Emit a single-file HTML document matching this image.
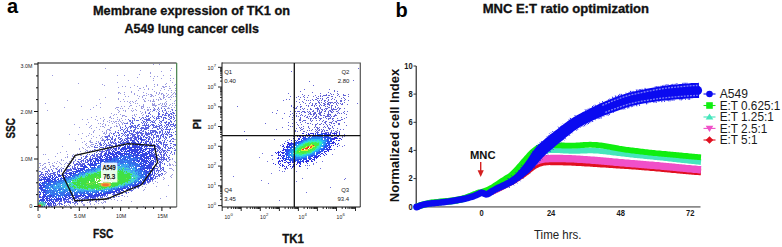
<!DOCTYPE html>
<html><head><meta charset="utf-8"><style>html,body{margin:0;padding:0;background:#fff;width:782px;height:247px;overflow:hidden}</style></head>
<body><svg width="782" height="247" viewBox="0 0 782 247" style="font-family:'Liberation Sans',sans-serif;display:block"><rect width="782" height="247" fill="#fff"/><text x="7" y="13.2" font-size="20" font-weight="bold" text-anchor="start" fill="#000" >a</text><text x="395.5" y="17" font-size="20" font-weight="bold" text-anchor="start" fill="#000" >b</text><text x="93" y="14.7" font-size="12.8" font-weight="bold" text-anchor="start" fill="#111" textLength="197" lengthAdjust="spacingAndGlyphs" stroke="#111" stroke-width="0.32">Membrane expression of TK1 on</text><text x="124.4" y="32.5" font-size="12.8" font-weight="bold" text-anchor="start" fill="#111" textLength="134.5" lengthAdjust="spacingAndGlyphs" stroke="#111" stroke-width="0.32">A549 lung cancer cells</text><text x="482.7" y="13.1" font-size="11.9" font-weight="bold" text-anchor="start" fill="#111" textLength="166.3" lengthAdjust="spacingAndGlyphs" stroke="#111" stroke-width="0.32">MNC E:T ratio optimization</text><text x="93" y="237.5" font-size="12.2" font-weight="bold" text-anchor="start" fill="#111" textLength="20.5" lengthAdjust="spacingAndGlyphs" stroke="#111" stroke-width="0.32">FSC</text><text x="282.3" y="242.8" font-size="12.3" font-weight="bold" text-anchor="start" fill="#111" textLength="21.6" lengthAdjust="spacingAndGlyphs" stroke="#111" stroke-width="0.32">TK1</text><text x="15.2" y="138.5" font-size="12.5" font-weight="bold" text-anchor="start" fill="#111" textLength="20.3" lengthAdjust="spacingAndGlyphs" transform="rotate(-90 15.2 138.5)" stroke="#111" stroke-width="0.32">SSC</text><text x="200.7" y="129.2" font-size="11" font-weight="bold" text-anchor="start" fill="#111" textLength="10.2" lengthAdjust="spacingAndGlyphs" transform="rotate(-90 200.7 129.2)" stroke="#111" stroke-width="0.32">PI</text><path fill="#9a9ae0" d="M153 64h1v1h-1zM159 64h1v1h-1zM105 68h1v1h-1zM171 68h1v1h-1zM140 70h1v1h-1zM170 70h1v1h-1zM161 71h1v1h-1zM150 72h1v1h-1zM150 73h1v1h-1zM139 74h1v1h-1zM52 75h1v1h-1zM117 75h1v1h-1zM124 75h1v1h-1zM163 75h1v1h-1zM170 75h1v1h-1zM150 76h1v1h-1zM154 76h1v1h-1zM157 76h1v1h-1zM137 77h1v1h-1zM153 78h1v1h-1zM161 78h1v1h-1zM170 78h1v1h-1zM173 78h1v1h-1zM128 80h1v1h-1zM153 80h1v1h-1zM170 80h1v1h-1zM117 82h1v1h-1zM172 82h1v1h-1zM78 83h1v1h-1zM166 83h1v1h-1zM102 84h1v1h-1zM154 84h1v1h-1zM157 84h1v1h-1zM165 84h1v1h-1zM175 84h1v1h-1zM104 85h1v1h-1zM134 85h1v1h-1zM146 85h1v1h-1zM157 85h1v1h-1zM174 85h1v1h-1zM122 86h1v1h-1zM125 86h1v1h-1zM137 86h1v1h-1zM146 86h1v1h-1zM154 86h1v1h-1zM162 86h2v1h-2zM165 86h2v1h-2zM169 86h1v1h-1zM118 87h1v1h-1zM130 87h1v1h-1zM143 87h1v1h-1zM163 87h2v1h-2zM139 88h2v1h-2zM148 88h1v1h-1zM161 88h1v1h-1zM169 88h2v1h-2zM175 88h1v1h-1zM144 89h1v1h-1zM148 89h1v1h-1zM152 89h1v1h-1zM164 89h1v1h-1zM138 90h1v1h-1zM160 90h1v1h-1zM168 90h1v1h-1zM171 90h1v1h-1zM175 90h1v1h-1zM131 91h1v1h-1zM154 91h1v1h-1zM118 92h2v1h-2zM124 92h1v1h-1zM131 92h1v1h-1zM143 92h1v1h-1zM156 92h1v1h-1zM159 92h1v1h-1zM171 92h1v1h-1zM174 92h1v1h-1zM118 93h1v1h-1zM120 93h1v1h-1zM134 93h1v1h-1zM146 93h1v1h-1zM156 93h1v1h-1zM159 93h1v1h-1zM161 93h2v1h-2zM166 93h1v1h-1zM173 93h1v1h-1zM175 93h1v1h-1zM124 94h1v1h-1zM134 94h1v1h-1zM148 94h1v1h-1zM150 94h2v1h-2zM158 94h1v1h-1zM161 94h1v1h-1zM163 94h1v1h-1zM168 94h1v1h-1zM172 94h1v1h-1zM175 94h1v1h-1zM137 95h1v1h-1zM143 95h2v1h-2zM146 95h1v1h-1zM151 95h2v1h-2zM155 95h1v1h-1zM163 95h2v1h-2zM167 95h1v1h-1zM171 95h1v1h-1zM125 96h1v1h-1zM128 96h1v1h-1zM139 96h1v1h-1zM142 96h1v1h-1zM150 96h2v1h-2zM153 96h1v1h-1zM163 96h1v1h-1zM166 96h1v1h-1zM170 96h1v1h-1zM173 96h1v1h-1zM175 96h1v1h-1zM105 97h1v1h-1zM142 97h1v1h-1zM159 97h1v1h-1zM163 97h2v1h-2zM168 97h2v1h-2zM171 97h1v1h-1zM118 98h1v1h-1zM138 98h1v1h-1zM145 98h1v1h-1zM160 98h1v1h-1zM163 98h1v1h-1zM99 99h1v1h-1zM118 99h1v1h-1zM123 99h1v1h-1zM143 99h1v1h-1zM153 99h1v1h-1zM156 99h1v1h-1zM158 99h1v1h-1zM160 99h2v1h-2zM165 99h1v1h-1zM170 99h1v1h-1zM67 100h1v1h-1zM136 100h1v1h-1zM144 100h1v1h-1zM148 100h1v1h-1zM150 100h1v1h-1zM153 100h1v1h-1zM158 100h1v1h-1zM175 100h1v1h-1zM120 101h1v1h-1zM124 101h1v1h-1zM127 101h1v1h-1zM130 101h1v1h-1zM132 101h1v1h-1zM135 101h1v1h-1zM144 101h2v1h-2zM150 101h1v1h-1zM152 101h3v1h-3zM166 101h1v1h-1zM174 101h1v1h-1zM129 102h1v1h-1zM133 102h1v1h-1zM165 102h1v1h-1zM45 103h1v1h-1zM100 103h1v1h-1zM130 103h1v1h-1zM135 103h1v1h-1zM137 103h1v1h-1zM152 103h1v1h-1zM154 103h1v1h-1zM160 103h1v1h-1zM162 103h1v1h-1zM164 103h1v1h-1zM166 103h1v1h-1zM172 103h1v1h-1zM174 103h1v1h-1zM143 104h1v1h-1zM152 104h3v1h-3zM158 104h2v1h-2zM162 104h1v1h-1zM164 104h1v1h-1zM166 104h1v1h-1zM170 104h1v1h-1zM96 105h1v1h-1zM130 105h2v1h-2zM139 105h1v1h-1zM143 105h1v1h-1zM152 105h5v1h-5zM161 105h1v1h-1zM165 105h1v1h-1zM169 105h1v1h-1zM172 105h1v1h-1zM175 105h1v1h-1zM81 106h1v1h-1zM121 106h1v1h-1zM124 106h1v1h-1zM129 106h1v1h-1zM136 106h1v1h-1zM141 106h3v1h-3zM155 106h1v1h-1zM162 106h5v1h-5zM64 107h1v1h-1zM93 107h1v1h-1zM100 107h1v1h-1zM116 107h3v1h-3zM141 107h1v1h-1zM143 107h1v1h-1zM147 107h1v1h-1zM149 107h1v1h-1zM153 107h1v1h-1zM158 107h1v1h-1zM161 107h1v1h-1zM168 107h1v1h-1zM171 107h1v1h-1zM174 107h1v1h-1zM115 108h1v1h-1zM120 108h1v1h-1zM122 108h1v1h-1zM128 108h1v1h-1zM132 108h1v1h-1zM141 108h2v1h-2zM167 108h3v1h-3zM90 109h1v1h-1zM117 109h1v1h-1zM135 109h1v1h-1zM144 109h1v1h-1zM147 109h2v1h-2zM153 109h3v1h-3zM159 109h1v1h-1zM171 109h1v1h-1zM47 110h1v1h-1zM118 110h1v1h-1zM123 110h1v1h-1zM125 110h1v1h-1zM131 110h1v1h-1zM133 110h1v1h-1zM136 110h1v1h-1zM147 110h2v1h-2zM158 110h1v1h-1zM164 110h1v1h-1zM119 111h1v1h-1zM125 111h1v1h-1zM132 111h1v1h-1zM140 111h1v1h-1zM145 111h1v1h-1zM150 111h1v1h-1zM152 111h1v1h-1zM156 111h1v1h-1zM166 111h1v1h-1zM168 111h1v1h-1zM118 112h1v1h-1zM142 112h1v1h-1zM111 113h1v1h-1zM141 113h1v1h-1zM145 113h1v1h-1zM114 114h1v1h-1zM116 114h1v1h-1zM120 114h1v1h-1zM134 114h1v1h-1zM136 114h1v1h-1zM143 114h1v1h-1zM172 114h1v1h-1zM113 115h1v1h-1zM122 115h3v1h-3zM132 115h1v1h-1zM134 115h1v1h-1zM142 115h1v1h-1zM152 115h1v1h-1zM96 116h1v1h-1zM110 116h1v1h-1zM122 116h1v1h-1zM125 116h2v1h-2zM135 116h1v1h-1zM154 116h1v1h-1zM173 116h1v1h-1zM91 117h1v1h-1zM103 117h1v1h-1zM109 117h2v1h-2zM117 117h1v1h-1zM143 117h1v1h-1zM174 117h1v1h-1zM100 118h1v1h-1zM111 118h1v1h-1zM113 118h1v1h-1zM121 118h1v1h-1zM132 118h1v1h-1zM134 118h1v1h-1zM146 118h1v1h-1zM82 119h1v1h-1zM87 119h1v1h-1zM95 119h1v1h-1zM104 119h1v1h-1zM117 119h1v1h-1zM119 119h1v1h-1zM125 119h1v1h-1zM97 120h1v1h-1zM103 120h1v1h-1zM109 120h1v1h-1zM119 120h1v1h-1zM122 120h1v1h-1zM103 121h1v1h-1zM107 121h1v1h-1zM111 121h1v1h-1zM113 121h1v1h-1zM115 121h2v1h-2zM118 121h1v1h-1zM120 121h1v1h-1zM129 121h1v1h-1zM88 122h1v1h-1zM109 122h1v1h-1zM114 122h1v1h-1zM121 122h1v1h-1zM123 122h1v1h-1zM127 122h1v1h-1zM98 123h1v1h-1zM100 123h1v1h-1zM103 123h1v1h-1zM112 123h1v1h-1zM116 123h1v1h-1zM118 123h1v1h-1zM122 123h1v1h-1zM125 123h1v1h-1zM74 124h1v1h-1zM86 124h1v1h-1zM102 124h1v1h-1zM105 124h1v1h-1zM119 124h1v1h-1zM122 124h1v1h-1zM91 125h1v1h-1zM105 125h1v1h-1zM108 125h1v1h-1zM116 125h1v1h-1zM119 125h1v1h-1zM90 126h1v1h-1zM100 126h1v1h-1zM102 126h2v1h-2zM114 126h1v1h-1zM116 126h2v1h-2zM120 126h1v1h-1zM79 127h1v1h-1zM89 127h1v1h-1zM96 127h1v1h-1zM104 127h1v1h-1zM110 127h2v1h-2zM91 128h1v1h-1zM110 128h1v1h-1zM99 129h1v1h-1zM107 129h3v1h-3zM94 130h1v1h-1zM106 130h1v1h-1zM109 130h2v1h-2zM93 131h1v1h-1zM102 131h1v1h-1zM106 131h1v1h-1zM93 132h1v1h-1zM104 132h1v1h-1zM106 132h1v1h-1zM110 132h1v1h-1zM82 133h1v1h-1zM89 133h1v1h-1zM103 133h2v1h-2zM106 133h1v1h-1zM109 133h1v1h-1zM69 134h1v1h-1zM78 134h1v1h-1zM91 134h1v1h-1zM105 134h1v1h-1zM109 134h1v1h-1zM88 135h1v1h-1zM99 135h1v1h-1zM86 136h1v1h-1zM93 136h1v1h-1zM102 136h1v1h-1zM104 136h1v1h-1zM108 136h1v1h-1zM96 137h1v1h-1zM101 137h1v1h-1zM81 138h1v1h-1zM91 138h1v1h-1zM100 138h1v1h-1zM102 138h1v1h-1zM102 139h2v1h-2zM173 139h3v1h-3zM75 140h1v1h-1zM90 140h1v1h-1zM101 140h1v1h-1zM103 140h2v1h-2zM84 141h1v1h-1zM89 141h2v1h-2zM96 141h1v1h-1zM98 141h1v1h-1zM82 142h1v1h-1zM90 142h3v1h-3zM98 142h1v1h-1zM86 143h1v1h-1zM95 143h1v1h-1zM85 144h1v1h-1zM91 144h3v1h-3zM99 144h1v1h-1zM86 145h1v1h-1zM90 145h1v1h-1zM174 145h1v1h-1zM62 146h1v1h-1zM88 146h1v1h-1zM91 146h2v1h-2zM82 147h1v1h-1zM87 147h1v1h-1zM89 147h1v1h-1zM79 148h1v1h-1zM83 148h1v1h-1zM79 149h1v1h-1zM85 149h1v1h-1zM95 149h1v1h-1zM175 149h1v1h-1zM86 150h2v1h-2zM90 150h1v1h-1zM66 151h1v1h-1zM80 151h1v1h-1zM85 151h1v1h-1zM87 151h1v1h-1zM60 152h1v1h-1zM87 152h1v1h-1zM57 153h1v1h-1zM77 153h1v1h-1zM81 153h1v1h-1zM43 154h1v1h-1zM45 154h1v1h-1zM67 154h1v1h-1zM73 154h1v1h-1zM78 154h1v1h-1zM80 154h1v1h-1zM174 154h1v1h-1zM72 155h1v1h-1zM74 155h1v1h-1zM76 155h1v1h-1zM80 155h2v1h-2zM55 156h1v1h-1zM67 156h1v1h-1zM72 156h2v1h-2zM65 157h1v1h-1zM67 157h1v1h-1zM75 157h1v1h-1zM71 158h1v1h-1zM172 158h1v1h-1zM48 159h1v1h-1zM61 159h1v1h-1zM73 159h1v1h-1zM75 159h1v1h-1zM170 159h1v1h-1zM172 159h1v1h-1zM61 160h1v1h-1zM63 160h1v1h-1zM169 160h1v1h-1zM57 161h1v1h-1zM69 161h1v1h-1zM73 161h2v1h-2zM168 161h1v1h-1zM174 161h1v1h-1zM48 162h2v1h-2zM54 162h1v1h-1zM59 162h1v1h-1zM66 162h1v1h-1zM71 162h1v1h-1zM175 162h1v1h-1zM39 163h2v1h-2zM44 163h2v1h-2zM52 163h1v1h-1zM56 163h1v1h-1zM60 163h1v1h-1zM65 163h1v1h-1zM67 163h2v1h-2zM70 163h1v1h-1zM169 163h1v1h-1zM43 164h1v1h-1zM49 164h1v1h-1zM61 164h1v1h-1zM64 164h1v1h-1zM169 164h2v1h-2zM172 164h1v1h-1zM40 165h1v1h-1zM42 165h1v1h-1zM52 165h2v1h-2zM67 165h1v1h-1zM169 165h2v1h-2zM173 165h1v1h-1zM175 165h1v1h-1zM45 166h1v1h-1zM50 166h1v1h-1zM53 166h2v1h-2zM58 166h1v1h-1zM64 166h1v1h-1zM39 167h1v1h-1zM44 167h2v1h-2zM50 167h1v1h-1zM57 167h1v1h-1zM61 167h1v1h-1zM42 168h2v1h-2zM46 168h1v1h-1zM53 168h1v1h-1zM55 168h1v1h-1zM60 168h1v1h-1zM62 168h1v1h-1zM169 168h3v1h-3zM42 169h1v1h-1zM44 169h1v1h-1zM56 169h2v1h-2zM172 169h1v1h-1zM49 170h1v1h-1zM173 170h1v1h-1zM165 171h1v1h-1zM166 172h1v1h-1zM165 173h1v1h-1zM164 174h1v1h-1zM172 174h1v1h-1zM171 175h1v1h-1zM170 176h1v1h-1zM163 177h1v1h-1zM171 177h1v1h-1zM157 178h1v1h-1zM164 178h1v1h-1zM163 179h1v1h-1zM152 181h1v1h-1zM155 181h1v1h-1zM149 182h1v1h-1zM157 182h1v1h-1zM148 183h1v1h-1zM153 183h1v1h-1zM146 184h1v1h-1zM168 185h1v1h-1zM142 186h1v1h-1zM156 186h1v1h-1zM145 187h1v1h-1zM138 188h1v1h-1zM144 189h1v1h-1zM143 190h1v1h-1zM131 191h1v1h-1zM121 195h1v1h-1zM119 196h1v1h-1zM124 196h1v1h-1zM127 196h1v1h-1zM166 196h1v1h-1zM160 198h1v1h-1zM108 199h1v1h-1zM111 199h1v1h-1zM114 199h1v1h-1zM98 200h2v1h-2zM103 200h1v1h-1zM117 200h1v1h-1zM121 200h1v1h-1zM89 201h1v1h-1zM96 201h1v1h-1zM98 201h1v1h-1zM104 201h2v1h-2zM131 201h1v1h-1zM81 202h1v1h-1zM87 202h1v1h-1zM89 202h1v1h-1zM96 202h1v1h-1zM101 202h1v1h-1zM103 202h1v1h-1zM105 202h1v1h-1zM75 203h1v1h-1zM82 203h1v1h-1zM90 203h1v1h-1zM98 203h1v1h-1zM102 203h1v1h-1zM68 204h1v1h-1zM74 204h1v1h-1zM77 204h1v1h-1zM83 204h2v1h-2zM90 204h1v1h-1zM94 204h1v1h-1zM56 205h1v1h-1zM59 205h1v1h-1zM66 205h1v1h-1zM69 205h1v1h-1zM75 205h1v1h-1zM83 205h2v1h-2zM60 206h2v1h-2zM65 206h1v1h-1zM70 206h1v1h-1zM73 206h1v1h-1zM91 206h1v1h-1zM103 206h1v1h-1zM143 206h1v1h-1z"/><path fill="#5e64e0" d="M154 108h1v1h-1zM158 108h1v1h-1zM161 108h1v1h-1zM164 108h1v1h-1zM150 109h1v1h-1zM157 109h1v1h-1zM165 109h1v1h-1zM172 109h1v1h-1zM153 110h2v1h-2zM162 110h1v1h-1zM165 110h1v1h-1zM172 110h1v1h-1zM175 110h1v1h-1zM159 111h1v1h-1zM162 111h1v1h-1zM170 111h1v1h-1zM145 112h1v1h-1zM149 112h1v1h-1zM158 112h1v1h-1zM163 112h1v1h-1zM166 112h1v1h-1zM172 112h2v1h-2zM148 113h2v1h-2zM158 113h2v1h-2zM165 113h3v1h-3zM170 113h2v1h-2zM173 113h2v1h-2zM150 114h1v1h-1zM158 114h2v1h-2zM162 114h2v1h-2zM165 114h1v1h-1zM168 114h2v1h-2zM171 114h1v1h-1zM146 115h1v1h-1zM148 115h1v1h-1zM158 115h1v1h-1zM162 115h1v1h-1zM164 115h3v1h-3zM168 115h2v1h-2zM173 115h1v1h-1zM175 115h1v1h-1zM146 116h3v1h-3zM152 116h1v1h-1zM157 116h5v1h-5zM168 116h1v1h-1zM170 116h2v1h-2zM132 117h1v1h-1zM139 117h1v1h-1zM142 117h1v1h-1zM145 117h1v1h-1zM150 117h1v1h-1zM153 117h1v1h-1zM156 117h1v1h-1zM158 117h1v1h-1zM161 117h1v1h-1zM163 117h3v1h-3zM169 117h1v1h-1zM171 117h1v1h-1zM173 117h1v1h-1zM133 118h1v1h-1zM141 118h1v1h-1zM143 118h1v1h-1zM148 118h2v1h-2zM154 118h1v1h-1zM156 118h4v1h-4zM163 118h1v1h-1zM165 118h2v1h-2zM170 118h2v1h-2zM174 118h1v1h-1zM128 119h1v1h-1zM134 119h1v1h-1zM140 119h1v1h-1zM144 119h6v1h-6zM156 119h1v1h-1zM163 119h1v1h-1zM168 119h2v1h-2zM173 119h1v1h-1zM129 120h2v1h-2zM132 120h1v1h-1zM134 120h1v1h-1zM136 120h3v1h-3zM142 120h1v1h-1zM146 120h5v1h-5zM153 120h1v1h-1zM155 120h1v1h-1zM159 120h1v1h-1zM162 120h2v1h-2zM170 120h1v1h-1zM175 120h1v1h-1zM130 121h1v1h-1zM132 121h1v1h-1zM143 121h2v1h-2zM146 121h1v1h-1zM151 121h2v1h-2zM154 121h1v1h-1zM160 121h2v1h-2zM166 121h1v1h-1zM170 121h2v1h-2zM174 121h1v1h-1zM131 122h2v1h-2zM141 122h1v1h-1zM143 122h1v1h-1zM145 122h1v1h-1zM147 122h1v1h-1zM150 122h1v1h-1zM152 122h3v1h-3zM159 122h1v1h-1zM161 122h1v1h-1zM164 122h3v1h-3zM168 122h2v1h-2zM171 122h1v1h-1zM124 123h1v1h-1zM126 123h2v1h-2zM130 123h1v1h-1zM132 123h2v1h-2zM142 123h1v1h-1zM144 123h1v1h-1zM146 123h1v1h-1zM155 123h1v1h-1zM160 123h1v1h-1zM165 123h1v1h-1zM168 123h2v1h-2zM173 123h1v1h-1zM130 124h1v1h-1zM138 124h2v1h-2zM144 124h1v1h-1zM146 124h1v1h-1zM148 124h1v1h-1zM151 124h3v1h-3zM158 124h1v1h-1zM161 124h1v1h-1zM166 124h3v1h-3zM170 124h4v1h-4zM175 124h1v1h-1zM125 125h1v1h-1zM131 125h2v1h-2zM134 125h2v1h-2zM137 125h2v1h-2zM142 125h7v1h-7zM150 125h1v1h-1zM152 125h3v1h-3zM156 125h1v1h-1zM159 125h3v1h-3zM164 125h1v1h-1zM166 125h1v1h-1zM168 125h1v1h-1zM170 125h1v1h-1zM173 125h3v1h-3zM125 126h1v1h-1zM129 126h5v1h-5zM135 126h1v1h-1zM137 126h1v1h-1zM139 126h1v1h-1zM145 126h1v1h-1zM148 126h2v1h-2zM153 126h1v1h-1zM155 126h5v1h-5zM162 126h1v1h-1zM165 126h1v1h-1zM167 126h1v1h-1zM169 126h1v1h-1zM171 126h2v1h-2zM174 126h1v1h-1zM120 127h1v1h-1zM122 127h1v1h-1zM126 127h1v1h-1zM128 127h1v1h-1zM130 127h2v1h-2zM133 127h4v1h-4zM141 127h3v1h-3zM145 127h4v1h-4zM153 127h4v1h-4zM159 127h1v1h-1zM161 127h1v1h-1zM164 127h1v1h-1zM166 127h2v1h-2zM175 127h1v1h-1zM120 128h1v1h-1zM125 128h1v1h-1zM127 128h1v1h-1zM130 128h1v1h-1zM135 128h1v1h-1zM137 128h2v1h-2zM140 128h9v1h-9zM152 128h1v1h-1zM157 128h1v1h-1zM159 128h2v1h-2zM162 128h1v1h-1zM166 128h1v1h-1zM170 128h1v1h-1zM174 128h1v1h-1zM121 129h2v1h-2zM124 129h1v1h-1zM127 129h1v1h-1zM134 129h2v1h-2zM141 129h1v1h-1zM144 129h3v1h-3zM157 129h2v1h-2zM161 129h1v1h-1zM163 129h1v1h-1zM165 129h6v1h-6zM172 129h1v1h-1zM118 130h1v1h-1zM120 130h1v1h-1zM123 130h1v1h-1zM126 130h2v1h-2zM130 130h2v1h-2zM133 130h2v1h-2zM140 130h2v1h-2zM143 130h1v1h-1zM148 130h1v1h-1zM150 130h6v1h-6zM161 130h2v1h-2zM169 130h1v1h-1zM115 131h1v1h-1zM123 131h1v1h-1zM125 131h1v1h-1zM127 131h3v1h-3zM131 131h1v1h-1zM133 131h2v1h-2zM137 131h1v1h-1zM139 131h1v1h-1zM142 131h2v1h-2zM145 131h1v1h-1zM150 131h1v1h-1zM152 131h5v1h-5zM159 131h2v1h-2zM162 131h1v1h-1zM165 131h1v1h-1zM167 131h1v1h-1zM169 131h1v1h-1zM175 131h1v1h-1zM115 132h1v1h-1zM117 132h2v1h-2zM124 132h3v1h-3zM129 132h1v1h-1zM133 132h1v1h-1zM135 132h7v1h-7zM145 132h2v1h-2zM148 132h1v1h-1zM150 132h4v1h-4zM155 132h3v1h-3zM159 132h2v1h-2zM162 132h1v1h-1zM165 132h1v1h-1zM167 132h3v1h-3zM171 132h1v1h-1zM173 132h1v1h-1zM111 133h1v1h-1zM113 133h2v1h-2zM118 133h1v1h-1zM121 133h2v1h-2zM124 133h1v1h-1zM129 133h4v1h-4zM136 133h3v1h-3zM140 133h4v1h-4zM145 133h7v1h-7zM155 133h1v1h-1zM157 133h1v1h-1zM159 133h1v1h-1zM162 133h1v1h-1zM164 133h1v1h-1zM166 133h1v1h-1zM168 133h1v1h-1zM113 134h1v1h-1zM119 134h1v1h-1zM123 134h1v1h-1zM125 134h1v1h-1zM127 134h2v1h-2zM131 134h5v1h-5zM137 134h1v1h-1zM141 134h2v1h-2zM145 134h5v1h-5zM151 134h2v1h-2zM154 134h2v1h-2zM161 134h3v1h-3zM165 134h3v1h-3zM169 134h3v1h-3zM175 134h1v1h-1zM108 135h2v1h-2zM114 135h1v1h-1zM116 135h1v1h-1zM118 135h2v1h-2zM122 135h1v1h-1zM124 135h1v1h-1zM126 135h3v1h-3zM130 135h1v1h-1zM132 135h3v1h-3zM137 135h3v1h-3zM141 135h2v1h-2zM144 135h1v1h-1zM146 135h2v1h-2zM151 135h1v1h-1zM153 135h1v1h-1zM156 135h3v1h-3zM160 135h2v1h-2zM163 135h1v1h-1zM167 135h1v1h-1zM171 135h2v1h-2zM105 136h3v1h-3zM109 136h1v1h-1zM112 136h1v1h-1zM116 136h1v1h-1zM121 136h1v1h-1zM125 136h1v1h-1zM127 136h1v1h-1zM132 136h4v1h-4zM137 136h1v1h-1zM140 136h1v1h-1zM144 136h1v1h-1zM148 136h2v1h-2zM153 136h1v1h-1zM156 136h3v1h-3zM160 136h1v1h-1zM162 136h2v1h-2zM165 136h1v1h-1zM169 136h3v1h-3zM105 137h3v1h-3zM110 137h1v1h-1zM112 137h1v1h-1zM118 137h2v1h-2zM127 137h2v1h-2zM130 137h3v1h-3zM134 137h1v1h-1zM136 137h3v1h-3zM140 137h2v1h-2zM143 137h1v1h-1zM146 137h2v1h-2zM149 137h2v1h-2zM153 137h2v1h-2zM156 137h1v1h-1zM158 137h1v1h-1zM160 137h1v1h-1zM163 137h1v1h-1zM165 137h2v1h-2zM169 137h1v1h-1zM107 138h1v1h-1zM111 138h2v1h-2zM115 138h1v1h-1zM118 138h1v1h-1zM120 138h2v1h-2zM125 138h7v1h-7zM133 138h4v1h-4zM139 138h1v1h-1zM148 138h2v1h-2zM151 138h1v1h-1zM153 138h1v1h-1zM159 138h2v1h-2zM164 138h1v1h-1zM166 138h1v1h-1zM172 138h2v1h-2zM106 139h4v1h-4zM111 139h2v1h-2zM114 139h2v1h-2zM119 139h2v1h-2zM122 139h1v1h-1zM124 139h1v1h-1zM126 139h2v1h-2zM130 139h2v1h-2zM134 139h1v1h-1zM136 139h1v1h-1zM143 139h3v1h-3zM149 139h1v1h-1zM151 139h2v1h-2zM156 139h1v1h-1zM158 139h2v1h-2zM165 139h1v1h-1zM171 139h1v1h-1zM102 140h1v1h-1zM105 140h1v1h-1zM107 140h1v1h-1zM110 140h1v1h-1zM114 140h2v1h-2zM121 140h2v1h-2zM124 140h2v1h-2zM127 140h2v1h-2zM131 140h1v1h-1zM134 140h1v1h-1zM136 140h2v1h-2zM142 140h3v1h-3zM146 140h1v1h-1zM148 140h1v1h-1zM152 140h1v1h-1zM156 140h1v1h-1zM158 140h1v1h-1zM162 140h1v1h-1zM164 140h1v1h-1zM167 140h1v1h-1zM170 140h1v1h-1zM104 141h1v1h-1zM110 141h1v1h-1zM112 141h1v1h-1zM114 141h1v1h-1zM118 141h1v1h-1zM120 141h2v1h-2zM123 141h1v1h-1zM127 141h2v1h-2zM133 141h2v1h-2zM145 141h2v1h-2zM150 141h1v1h-1zM152 141h1v1h-1zM154 141h1v1h-1zM156 141h5v1h-5zM164 141h1v1h-1zM169 141h2v1h-2zM172 141h2v1h-2zM100 142h1v1h-1zM104 142h1v1h-1zM108 142h1v1h-1zM110 142h4v1h-4zM115 142h1v1h-1zM118 142h3v1h-3zM122 142h5v1h-5zM132 142h1v1h-1zM140 142h1v1h-1zM146 142h1v1h-1zM149 142h2v1h-2zM152 142h1v1h-1zM154 142h1v1h-1zM159 142h3v1h-3zM163 142h2v1h-2zM166 142h1v1h-1zM96 143h1v1h-1zM99 143h2v1h-2zM103 143h1v1h-1zM105 143h1v1h-1zM108 143h1v1h-1zM111 143h1v1h-1zM113 143h4v1h-4zM121 143h2v1h-2zM137 143h2v1h-2zM144 143h2v1h-2zM149 143h3v1h-3zM156 143h1v1h-1zM158 143h1v1h-1zM160 143h2v1h-2zM163 143h1v1h-1zM170 143h2v1h-2zM100 144h2v1h-2zM104 144h1v1h-1zM106 144h1v1h-1zM109 144h2v1h-2zM115 144h2v1h-2zM118 144h2v1h-2zM121 144h1v1h-1zM124 144h2v1h-2zM129 144h1v1h-1zM132 144h1v1h-1zM144 144h1v1h-1zM147 144h1v1h-1zM150 144h1v1h-1zM153 144h2v1h-2zM156 144h2v1h-2zM161 144h1v1h-1zM163 144h5v1h-5zM173 144h3v1h-3zM95 145h1v1h-1zM97 145h1v1h-1zM100 145h2v1h-2zM103 145h1v1h-1zM106 145h7v1h-7zM118 145h2v1h-2zM121 145h2v1h-2zM141 145h1v1h-1zM145 145h2v1h-2zM148 145h1v1h-1zM153 145h3v1h-3zM157 145h1v1h-1zM163 145h1v1h-1zM165 145h2v1h-2zM170 145h1v1h-1zM175 145h1v1h-1zM94 146h1v1h-1zM99 146h1v1h-1zM105 146h2v1h-2zM109 146h1v1h-1zM111 146h3v1h-3zM116 146h2v1h-2zM119 146h1v1h-1zM137 146h1v1h-1zM151 146h1v1h-1zM156 146h4v1h-4zM163 146h1v1h-1zM165 146h1v1h-1zM167 146h1v1h-1zM173 146h1v1h-1zM94 147h4v1h-4zM100 147h4v1h-4zM105 147h1v1h-1zM107 147h1v1h-1zM113 147h1v1h-1zM116 147h1v1h-1zM119 147h1v1h-1zM146 147h1v1h-1zM154 147h1v1h-1zM157 147h4v1h-4zM164 147h2v1h-2zM168 147h1v1h-1zM170 147h2v1h-2zM99 148h1v1h-1zM103 148h1v1h-1zM105 148h3v1h-3zM110 148h2v1h-2zM114 148h1v1h-1zM146 148h1v1h-1zM151 148h2v1h-2zM155 148h2v1h-2zM158 148h3v1h-3zM162 148h1v1h-1zM165 148h1v1h-1zM168 148h3v1h-3zM172 148h1v1h-1zM174 148h1v1h-1zM94 149h1v1h-1zM104 149h1v1h-1zM107 149h4v1h-4zM114 149h1v1h-1zM116 149h1v1h-1zM118 149h1v1h-1zM155 149h1v1h-1zM157 149h1v1h-1zM159 149h1v1h-1zM161 149h2v1h-2zM167 149h1v1h-1zM92 150h1v1h-1zM96 150h1v1h-1zM98 150h1v1h-1zM102 150h1v1h-1zM105 150h2v1h-2zM108 150h2v1h-2zM116 150h1v1h-1zM151 150h1v1h-1zM153 150h1v1h-1zM157 150h2v1h-2zM160 150h1v1h-1zM162 150h4v1h-4zM167 150h3v1h-3zM174 150h2v1h-2zM89 151h1v1h-1zM93 151h2v1h-2zM97 151h1v1h-1zM99 151h6v1h-6zM108 151h2v1h-2zM152 151h1v1h-1zM155 151h3v1h-3zM159 151h1v1h-1zM161 151h1v1h-1zM163 151h2v1h-2zM166 151h1v1h-1zM171 151h1v1h-1zM89 152h1v1h-1zM96 152h1v1h-1zM101 152h2v1h-2zM105 152h2v1h-2zM159 152h3v1h-3zM163 152h1v1h-1zM165 152h1v1h-1zM167 152h1v1h-1zM171 152h1v1h-1zM174 152h1v1h-1zM84 153h1v1h-1zM94 153h1v1h-1zM98 153h1v1h-1zM100 153h1v1h-1zM104 153h1v1h-1zM154 153h1v1h-1zM160 153h1v1h-1zM164 153h2v1h-2zM170 153h1v1h-1zM174 153h1v1h-1zM87 154h1v1h-1zM89 154h1v1h-1zM92 154h1v1h-1zM94 154h1v1h-1zM96 154h2v1h-2zM99 154h3v1h-3zM106 154h1v1h-1zM151 154h3v1h-3zM155 154h2v1h-2zM158 154h1v1h-1zM160 154h2v1h-2zM163 154h2v1h-2zM166 154h1v1h-1zM172 154h1v1h-1zM86 155h1v1h-1zM91 155h4v1h-4zM96 155h2v1h-2zM100 155h1v1h-1zM154 155h1v1h-1zM156 155h3v1h-3zM161 155h1v1h-1zM163 155h2v1h-2zM166 155h1v1h-1zM169 155h1v1h-1zM83 156h1v1h-1zM85 156h3v1h-3zM90 156h1v1h-1zM93 156h2v1h-2zM96 156h4v1h-4zM101 156h1v1h-1zM154 156h1v1h-1zM156 156h1v1h-1zM159 156h1v1h-1zM161 156h1v1h-1zM163 156h1v1h-1zM167 156h1v1h-1zM81 157h1v1h-1zM85 157h2v1h-2zM90 157h1v1h-1zM92 157h1v1h-1zM95 157h1v1h-1zM97 157h2v1h-2zM157 157h1v1h-1zM160 157h5v1h-5zM168 157h2v1h-2zM81 158h1v1h-1zM84 158h2v1h-2zM89 158h2v1h-2zM92 158h2v1h-2zM155 158h1v1h-1zM157 158h3v1h-3zM161 158h1v1h-1zM163 158h2v1h-2zM166 158h1v1h-1zM168 158h1v1h-1zM78 159h3v1h-3zM83 159h1v1h-1zM86 159h2v1h-2zM89 159h1v1h-1zM154 159h1v1h-1zM156 159h1v1h-1zM158 159h9v1h-9zM169 159h1v1h-1zM75 160h1v1h-1zM81 160h3v1h-3zM85 160h1v1h-1zM87 160h3v1h-3zM91 160h1v1h-1zM93 160h1v1h-1zM155 160h1v1h-1zM157 160h2v1h-2zM161 160h1v1h-1zM163 160h1v1h-1zM166 160h1v1h-1zM77 161h2v1h-2zM80 161h2v1h-2zM83 161h1v1h-1zM85 161h1v1h-1zM87 161h2v1h-2zM154 161h1v1h-1zM159 161h2v1h-2zM162 161h1v1h-1zM167 161h1v1h-1zM73 162h1v1h-1zM78 162h2v1h-2zM81 162h1v1h-1zM85 162h2v1h-2zM151 162h1v1h-1zM155 162h1v1h-1zM157 162h1v1h-1zM159 162h3v1h-3zM73 163h1v1h-1zM76 163h2v1h-2zM79 163h2v1h-2zM82 163h3v1h-3zM156 163h1v1h-1zM158 163h1v1h-1zM160 163h1v1h-1zM162 163h1v1h-1zM164 163h1v1h-1zM74 164h11v1h-11zM87 164h1v1h-1zM153 164h1v1h-1zM155 164h2v1h-2zM159 164h2v1h-2zM164 164h1v1h-1zM70 165h1v1h-1zM74 165h2v1h-2zM78 165h1v1h-1zM80 165h2v1h-2zM151 165h2v1h-2zM155 165h2v1h-2zM159 165h2v1h-2zM167 165h1v1h-1zM68 166h2v1h-2zM72 166h1v1h-1zM74 166h1v1h-1zM77 166h1v1h-1zM80 166h1v1h-1zM154 166h1v1h-1zM156 166h2v1h-2zM159 166h2v1h-2zM66 167h2v1h-2zM72 167h1v1h-1zM74 167h2v1h-2zM77 167h1v1h-1zM154 167h1v1h-1zM158 167h1v1h-1zM160 167h1v1h-1zM162 167h2v1h-2zM56 168h1v1h-1zM63 168h1v1h-1zM66 168h1v1h-1zM70 168h1v1h-1zM72 168h4v1h-4zM77 168h1v1h-1zM155 168h3v1h-3zM160 168h2v1h-2zM163 168h1v1h-1zM48 169h1v1h-1zM51 169h1v1h-1zM59 169h1v1h-1zM61 169h1v1h-1zM66 169h6v1h-6zM73 169h2v1h-2zM153 169h2v1h-2zM157 169h1v1h-1zM160 169h1v1h-1zM162 169h2v1h-2zM48 170h1v1h-1zM52 170h1v1h-1zM58 170h2v1h-2zM61 170h1v1h-1zM66 170h5v1h-5zM153 170h2v1h-2zM156 170h4v1h-4zM161 170h1v1h-1zM163 170h1v1h-1zM39 171h2v1h-2zM45 171h3v1h-3zM49 171h1v1h-1zM52 171h1v1h-1zM57 171h3v1h-3zM61 171h1v1h-1zM64 171h1v1h-1zM66 171h3v1h-3zM73 171h1v1h-1zM154 171h1v1h-1zM156 171h1v1h-1zM158 171h1v1h-1zM160 171h1v1h-1zM164 171h1v1h-1zM41 172h2v1h-2zM47 172h1v1h-1zM53 172h3v1h-3zM57 172h1v1h-1zM59 172h1v1h-1zM66 172h1v1h-1zM69 172h1v1h-1zM158 172h1v1h-1zM41 173h1v1h-1zM45 173h2v1h-2zM48 173h1v1h-1zM50 173h5v1h-5zM57 173h1v1h-1zM64 173h2v1h-2zM154 173h2v1h-2zM157 173h1v1h-1zM161 173h2v1h-2zM40 174h4v1h-4zM45 174h1v1h-1zM47 174h1v1h-1zM49 174h2v1h-2zM53 174h3v1h-3zM57 174h2v1h-2zM151 174h1v1h-1zM154 174h1v1h-1zM156 174h1v1h-1zM158 174h3v1h-3zM162 174h1v1h-1zM39 175h2v1h-2zM43 175h1v1h-1zM45 175h1v1h-1zM48 175h1v1h-1zM50 175h2v1h-2zM54 175h2v1h-2zM151 175h1v1h-1zM154 175h1v1h-1zM158 175h2v1h-2zM161 175h1v1h-1zM39 176h1v1h-1zM41 176h2v1h-2zM44 176h1v1h-1zM46 176h1v1h-1zM153 176h1v1h-1zM155 176h3v1h-3zM159 176h1v1h-1zM40 177h1v1h-1zM42 177h1v1h-1zM47 177h1v1h-1zM49 177h1v1h-1zM152 177h2v1h-2zM155 177h1v1h-1zM39 178h1v1h-1zM41 178h1v1h-1zM43 178h2v1h-2zM154 178h2v1h-2zM39 179h2v1h-2zM149 179h1v1h-1zM151 179h3v1h-3zM150 180h1v1h-1zM152 180h1v1h-1zM148 181h3v1h-3zM147 182h2v1h-2zM142 183h1v1h-1zM145 183h1v1h-1zM143 184h2v1h-2zM139 186h1v1h-1zM137 187h2v1h-2zM134 188h2v1h-2zM128 189h1v1h-1zM133 189h1v1h-1zM126 190h2v1h-2zM129 190h4v1h-4zM118 191h1v1h-1zM120 191h1v1h-1zM123 191h2v1h-2zM117 192h2v1h-2zM120 192h2v1h-2zM125 192h2v1h-2zM128 192h1v1h-1zM113 193h2v1h-2zM117 193h2v1h-2zM121 193h2v1h-2zM126 193h1v1h-1zM107 194h1v1h-1zM112 194h6v1h-6zM119 194h1v1h-1zM39 195h1v1h-1zM103 195h3v1h-3zM107 195h1v1h-1zM113 195h3v1h-3zM122 195h1v1h-1zM40 196h1v1h-1zM92 196h1v1h-1zM96 196h1v1h-1zM98 196h1v1h-1zM102 196h1v1h-1zM104 196h1v1h-1zM106 196h1v1h-1zM112 196h2v1h-2zM116 196h1v1h-1zM118 196h1v1h-1zM41 197h2v1h-2zM78 197h1v1h-1zM84 197h1v1h-1zM94 197h2v1h-2zM97 197h1v1h-1zM100 197h3v1h-3zM107 197h2v1h-2zM113 197h2v1h-2zM76 198h1v1h-1zM79 198h2v1h-2zM82 198h5v1h-5zM88 198h1v1h-1zM90 198h1v1h-1zM92 198h4v1h-4zM98 198h1v1h-1zM105 198h2v1h-2zM110 198h1v1h-1zM66 199h1v1h-1zM68 199h1v1h-1zM71 199h2v1h-2zM74 199h1v1h-1zM77 199h1v1h-1zM79 199h1v1h-1zM81 199h2v1h-2zM84 199h1v1h-1zM88 199h4v1h-4zM96 199h3v1h-3zM100 199h2v1h-2zM57 200h1v1h-1zM63 200h2v1h-2zM66 200h1v1h-1zM68 200h1v1h-1zM72 200h1v1h-1zM76 200h1v1h-1zM86 200h2v1h-2zM90 200h1v1h-1zM92 200h1v1h-1zM96 200h1v1h-1zM56 201h2v1h-2zM60 201h2v1h-2zM64 201h7v1h-7zM74 201h4v1h-4zM79 201h1v1h-1zM81 201h2v1h-2zM90 201h1v1h-1zM95 201h1v1h-1zM53 202h1v1h-1zM59 202h1v1h-1zM64 202h2v1h-2zM67 202h4v1h-4zM72 202h2v1h-2zM75 202h2v1h-2zM50 203h1v1h-1zM54 203h1v1h-1zM58 203h4v1h-4zM64 203h1v1h-1zM70 203h1v1h-1zM74 203h1v1h-1zM77 203h1v1h-1zM49 204h3v1h-3zM57 204h1v1h-1zM59 204h1v1h-1zM61 204h2v1h-2zM46 205h1v1h-1zM48 205h4v1h-4zM53 205h3v1h-3zM64 205h1v1h-1zM46 206h1v1h-1zM48 206h2v1h-2zM51 206h2v1h-2zM54 206h1v1h-1z"/><path fill="#3444e2" d="M138 136h1v1h-1zM143 136h1v1h-1zM135 137h1v1h-1zM145 137h1v1h-1zM138 138h1v1h-1zM140 138h2v1h-2zM146 138h1v1h-1zM135 139h1v1h-1zM138 139h1v1h-1zM140 139h3v1h-3zM148 139h1v1h-1zM130 140h1v1h-1zM132 140h2v1h-2zM141 140h1v1h-1zM126 141h1v1h-1zM132 141h1v1h-1zM137 141h2v1h-2zM141 141h1v1h-1zM147 141h2v1h-2zM127 142h3v1h-3zM131 142h1v1h-1zM133 142h3v1h-3zM138 142h1v1h-1zM141 142h1v1h-1zM143 142h1v1h-1zM145 142h1v1h-1zM120 143h1v1h-1zM123 143h2v1h-2zM127 143h3v1h-3zM132 143h5v1h-5zM139 143h2v1h-2zM146 143h1v1h-1zM126 144h1v1h-1zM128 144h1v1h-1zM130 144h1v1h-1zM133 144h1v1h-1zM135 144h1v1h-1zM137 144h4v1h-4zM142 144h2v1h-2zM146 144h1v1h-1zM148 144h1v1h-1zM151 144h1v1h-1zM115 145h2v1h-2zM123 145h1v1h-1zM125 145h1v1h-1zM127 145h1v1h-1zM129 145h1v1h-1zM132 145h6v1h-6zM139 145h2v1h-2zM142 145h2v1h-2zM150 145h3v1h-3zM158 145h1v1h-1zM120 146h1v1h-1zM124 146h2v1h-2zM127 146h3v1h-3zM132 146h5v1h-5zM138 146h2v1h-2zM141 146h2v1h-2zM144 146h4v1h-4zM149 146h2v1h-2zM152 146h1v1h-1zM155 146h1v1h-1zM110 147h1v1h-1zM118 147h1v1h-1zM122 147h4v1h-4zM127 147h15v1h-15zM144 147h1v1h-1zM108 148h1v1h-1zM113 148h1v1h-1zM115 148h2v1h-2zM118 148h2v1h-2zM121 148h11v1h-11zM134 148h2v1h-2zM137 148h1v1h-1zM139 148h4v1h-4zM145 148h1v1h-1zM147 148h4v1h-4zM153 148h2v1h-2zM112 149h1v1h-1zM115 149h1v1h-1zM120 149h7v1h-7zM129 149h13v1h-13zM143 149h4v1h-4zM149 149h1v1h-1zM151 149h4v1h-4zM107 150h1v1h-1zM111 150h1v1h-1zM113 150h1v1h-1zM115 150h1v1h-1zM120 150h2v1h-2zM123 150h1v1h-1zM125 150h1v1h-1zM127 150h12v1h-12zM140 150h4v1h-4zM145 150h1v1h-1zM149 150h2v1h-2zM152 150h1v1h-1zM106 151h1v1h-1zM112 151h3v1h-3zM117 151h3v1h-3zM121 151h2v1h-2zM124 151h6v1h-6zM131 151h7v1h-7zM139 151h2v1h-2zM142 151h3v1h-3zM147 151h3v1h-3zM151 151h1v1h-1zM108 152h3v1h-3zM112 152h1v1h-1zM114 152h7v1h-7zM124 152h1v1h-1zM126 152h1v1h-1zM129 152h4v1h-4zM134 152h9v1h-9zM145 152h2v1h-2zM148 152h4v1h-4zM153 152h1v1h-1zM101 153h1v1h-1zM105 153h2v1h-2zM108 153h6v1h-6zM115 153h3v1h-3zM119 153h7v1h-7zM128 153h2v1h-2zM131 153h5v1h-5zM137 153h3v1h-3zM142 153h8v1h-8zM151 153h2v1h-2zM104 154h2v1h-2zM107 154h2v1h-2zM110 154h7v1h-7zM118 154h5v1h-5zM124 154h5v1h-5zM130 154h1v1h-1zM133 154h1v1h-1zM136 154h3v1h-3zM140 154h8v1h-8zM149 154h2v1h-2zM154 154h1v1h-1zM101 155h1v1h-1zM103 155h3v1h-3zM107 155h3v1h-3zM112 155h3v1h-3zM116 155h2v1h-2zM120 155h1v1h-1zM122 155h3v1h-3zM128 155h1v1h-1zM132 155h8v1h-8zM141 155h6v1h-6zM149 155h5v1h-5zM100 156h1v1h-1zM102 156h1v1h-1zM105 156h3v1h-3zM109 156h3v1h-3zM113 156h6v1h-6zM129 156h1v1h-1zM132 156h2v1h-2zM136 156h2v1h-2zM140 156h5v1h-5zM146 156h8v1h-8zM155 156h1v1h-1zM99 157h2v1h-2zM102 157h1v1h-1zM104 157h1v1h-1zM106 157h1v1h-1zM108 157h4v1h-4zM113 157h2v1h-2zM116 157h1v1h-1zM125 157h1v1h-1zM129 157h1v1h-1zM133 157h1v1h-1zM135 157h2v1h-2zM138 157h1v1h-1zM140 157h2v1h-2zM143 157h6v1h-6zM150 157h1v1h-1zM153 157h3v1h-3zM94 158h4v1h-4zM99 158h3v1h-3zM105 158h3v1h-3zM109 158h3v1h-3zM118 158h1v1h-1zM120 158h1v1h-1zM125 158h1v1h-1zM137 158h1v1h-1zM140 158h3v1h-3zM144 158h7v1h-7zM152 158h1v1h-1zM154 158h1v1h-1zM90 159h3v1h-3zM95 159h4v1h-4zM100 159h5v1h-5zM106 159h6v1h-6zM114 159h1v1h-1zM124 159h1v1h-1zM137 159h1v1h-1zM140 159h5v1h-5zM146 159h1v1h-1zM148 159h1v1h-1zM150 159h1v1h-1zM155 159h1v1h-1zM90 160h1v1h-1zM95 160h8v1h-8zM105 160h2v1h-2zM110 160h1v1h-1zM114 160h1v1h-1zM133 160h2v1h-2zM137 160h3v1h-3zM141 160h7v1h-7zM149 160h1v1h-1zM151 160h3v1h-3zM90 161h2v1h-2zM93 161h3v1h-3zM97 161h2v1h-2zM100 161h3v1h-3zM104 161h1v1h-1zM107 161h1v1h-1zM133 161h1v1h-1zM137 161h3v1h-3zM141 161h8v1h-8zM150 161h2v1h-2zM153 161h1v1h-1zM155 161h1v1h-1zM87 162h1v1h-1zM90 162h1v1h-1zM92 162h1v1h-1zM94 162h2v1h-2zM98 162h1v1h-1zM100 162h1v1h-1zM105 162h1v1h-1zM117 162h1v1h-1zM135 162h1v1h-1zM138 162h1v1h-1zM140 162h1v1h-1zM144 162h3v1h-3zM148 162h3v1h-3zM152 162h2v1h-2zM88 163h1v1h-1zM90 163h3v1h-3zM94 163h5v1h-5zM101 163h1v1h-1zM103 163h1v1h-1zM106 163h1v1h-1zM140 163h1v1h-1zM142 163h2v1h-2zM145 163h3v1h-3zM149 163h5v1h-5zM88 164h6v1h-6zM95 164h1v1h-1zM100 164h1v1h-1zM140 164h2v1h-2zM143 164h3v1h-3zM148 164h5v1h-5zM82 165h1v1h-1zM84 165h2v1h-2zM89 165h7v1h-7zM141 165h10v1h-10zM81 166h6v1h-6zM90 166h1v1h-1zM94 166h1v1h-1zM139 166h4v1h-4zM144 166h1v1h-1zM147 166h5v1h-5zM83 167h5v1h-5zM92 167h1v1h-1zM94 167h1v1h-1zM143 167h1v1h-1zM145 167h7v1h-7zM153 167h1v1h-1zM78 168h7v1h-7zM88 168h1v1h-1zM140 168h1v1h-1zM142 168h13v1h-13zM75 169h2v1h-2zM78 169h1v1h-1zM80 169h5v1h-5zM140 169h2v1h-2zM143 169h2v1h-2zM147 169h1v1h-1zM149 169h1v1h-1zM152 169h1v1h-1zM71 170h1v1h-1zM76 170h7v1h-7zM142 170h1v1h-1zM144 170h3v1h-3zM149 170h2v1h-2zM152 170h1v1h-1zM72 171h1v1h-1zM74 171h6v1h-6zM144 171h1v1h-1zM146 171h7v1h-7zM65 172h1v1h-1zM70 172h2v1h-2zM73 172h1v1h-1zM75 172h2v1h-2zM145 172h3v1h-3zM152 172h1v1h-1zM154 172h1v1h-1zM66 173h10v1h-10zM146 173h1v1h-1zM148 173h3v1h-3zM152 173h1v1h-1zM59 174h1v1h-1zM62 174h2v1h-2zM66 174h1v1h-1zM69 174h2v1h-2zM73 174h1v1h-1zM78 174h1v1h-1zM142 174h1v1h-1zM145 174h2v1h-2zM148 174h3v1h-3zM152 174h1v1h-1zM52 175h1v1h-1zM58 175h4v1h-4zM63 175h3v1h-3zM67 175h1v1h-1zM70 175h2v1h-2zM145 175h2v1h-2zM148 175h3v1h-3zM153 175h1v1h-1zM48 176h3v1h-3zM52 176h1v1h-1zM54 176h1v1h-1zM56 176h1v1h-1zM58 176h3v1h-3zM63 176h1v1h-1zM65 176h2v1h-2zM68 176h1v1h-1zM72 176h1v1h-1zM146 176h5v1h-5zM43 177h4v1h-4zM50 177h1v1h-1zM52 177h2v1h-2zM55 177h3v1h-3zM61 177h1v1h-1zM63 177h3v1h-3zM69 177h1v1h-1zM145 177h4v1h-4zM150 177h2v1h-2zM45 178h1v1h-1zM47 178h3v1h-3zM51 178h2v1h-2zM54 178h2v1h-2zM58 178h1v1h-1zM60 178h1v1h-1zM62 178h2v1h-2zM145 178h1v1h-1zM147 178h2v1h-2zM150 178h3v1h-3zM41 179h10v1h-10zM52 179h3v1h-3zM57 179h2v1h-2zM142 179h1v1h-1zM145 179h4v1h-4zM150 179h1v1h-1zM39 180h3v1h-3zM44 180h1v1h-1zM46 180h4v1h-4zM51 180h1v1h-1zM54 180h2v1h-2zM140 180h1v1h-1zM143 180h5v1h-5zM149 180h1v1h-1zM44 181h7v1h-7zM52 181h2v1h-2zM55 181h1v1h-1zM141 181h1v1h-1zM144 181h2v1h-2zM147 181h1v1h-1zM40 182h1v1h-1zM42 182h3v1h-3zM48 182h1v1h-1zM139 182h3v1h-3zM143 182h3v1h-3zM39 183h1v1h-1zM42 183h1v1h-1zM44 183h1v1h-1zM48 183h1v1h-1zM135 183h1v1h-1zM138 183h4v1h-4zM143 183h2v1h-2zM39 184h2v1h-2zM47 184h1v1h-1zM50 184h1v1h-1zM135 184h4v1h-4zM140 184h2v1h-2zM39 185h5v1h-5zM45 185h1v1h-1zM132 185h9v1h-9zM40 186h2v1h-2zM43 186h2v1h-2zM127 186h1v1h-1zM130 186h1v1h-1zM132 186h7v1h-7zM39 187h3v1h-3zM43 187h1v1h-1zM124 187h1v1h-1zM128 187h1v1h-1zM130 187h1v1h-1zM132 187h1v1h-1zM134 187h2v1h-2zM39 188h4v1h-4zM118 188h1v1h-1zM122 188h4v1h-4zM127 188h5v1h-5zM41 189h2v1h-2zM117 189h1v1h-1zM119 189h4v1h-4zM126 189h2v1h-2zM41 190h6v1h-6zM115 190h5v1h-5zM121 190h3v1h-3zM39 191h1v1h-1zM44 191h1v1h-1zM110 191h1v1h-1zM112 191h5v1h-5zM119 191h1v1h-1zM39 192h2v1h-2zM42 192h4v1h-4zM84 192h1v1h-1zM98 192h1v1h-1zM106 192h9v1h-9zM116 192h1v1h-1zM119 192h1v1h-1zM40 193h1v1h-1zM43 193h1v1h-1zM66 193h1v1h-1zM89 193h1v1h-1zM96 193h1v1h-1zM98 193h4v1h-4zM103 193h8v1h-8zM39 194h2v1h-2zM43 194h2v1h-2zM46 194h1v1h-1zM68 194h1v1h-1zM71 194h1v1h-1zM76 194h1v1h-1zM80 194h2v1h-2zM83 194h1v1h-1zM87 194h5v1h-5zM94 194h6v1h-6zM101 194h5v1h-5zM43 195h3v1h-3zM48 195h1v1h-1zM50 195h2v1h-2zM53 195h1v1h-1zM58 195h2v1h-2zM64 195h1v1h-1zM66 195h2v1h-2zM69 195h2v1h-2zM72 195h5v1h-5zM78 195h8v1h-8zM88 195h15v1h-15zM39 196h1v1h-1zM42 196h5v1h-5zM49 196h3v1h-3zM64 196h2v1h-2zM68 196h2v1h-2zM72 196h1v1h-1zM75 196h6v1h-6zM82 196h2v1h-2zM85 196h7v1h-7zM93 196h3v1h-3zM97 196h1v1h-1zM100 196h1v1h-1zM39 197h2v1h-2zM43 197h2v1h-2zM46 197h2v1h-2zM50 197h1v1h-1zM53 197h1v1h-1zM55 197h1v1h-1zM58 197h1v1h-1zM62 197h1v1h-1zM65 197h3v1h-3zM69 197h3v1h-3zM73 197h5v1h-5zM81 197h1v1h-1zM85 197h4v1h-4zM90 197h4v1h-4zM42 198h2v1h-2zM45 198h5v1h-5zM51 198h1v1h-1zM54 198h1v1h-1zM56 198h6v1h-6zM63 198h3v1h-3zM68 198h3v1h-3zM72 198h4v1h-4zM78 198h1v1h-1zM87 198h1v1h-1zM40 199h5v1h-5zM46 199h2v1h-2zM49 199h3v1h-3zM54 199h8v1h-8zM63 199h3v1h-3zM67 199h1v1h-1zM39 200h6v1h-6zM46 200h6v1h-6zM53 200h1v1h-1zM55 200h2v1h-2zM58 200h1v1h-1zM60 200h2v1h-2zM43 201h1v1h-1zM45 201h1v1h-1zM47 201h1v1h-1zM49 201h1v1h-1zM51 201h3v1h-3zM55 201h1v1h-1zM59 201h1v1h-1zM43 202h4v1h-4zM48 202h1v1h-1zM50 202h1v1h-1zM52 202h1v1h-1zM54 202h1v1h-1zM43 203h1v1h-1zM45 203h1v1h-1zM47 203h3v1h-3zM51 203h1v1h-1zM53 203h1v1h-1zM55 203h1v1h-1zM43 204h2v1h-2zM47 204h2v1h-2zM53 204h1v1h-1zM55 204h1v1h-1zM44 205h1v1h-1zM41 206h2v1h-2zM44 206h1v1h-1z"/><path fill="#3470ec" d="M118 153h1v1h-1zM126 153h2v1h-2zM129 154h1v1h-1zM131 154h1v1h-1zM134 154h2v1h-2zM121 155h1v1h-1zM126 155h1v1h-1zM129 155h3v1h-3zM140 155h1v1h-1zM120 156h9v1h-9zM130 156h2v1h-2zM135 156h1v1h-1zM107 157h1v1h-1zM115 157h1v1h-1zM117 157h1v1h-1zM119 157h3v1h-3zM123 157h2v1h-2zM126 157h3v1h-3zM130 157h1v1h-1zM134 157h1v1h-1zM137 157h1v1h-1zM139 157h1v1h-1zM112 158h6v1h-6zM119 158h1v1h-1zM122 158h3v1h-3zM127 158h10v1h-10zM138 158h2v1h-2zM105 159h1v1h-1zM112 159h2v1h-2zM115 159h4v1h-4zM120 159h4v1h-4zM125 159h3v1h-3zM129 159h8v1h-8zM139 159h1v1h-1zM103 160h1v1h-1zM107 160h3v1h-3zM111 160h3v1h-3zM115 160h8v1h-8zM124 160h9v1h-9zM135 160h2v1h-2zM103 161h1v1h-1zM105 161h2v1h-2zM108 161h8v1h-8zM117 161h8v1h-8zM127 161h5v1h-5zM134 161h1v1h-1zM136 161h1v1h-1zM101 162h1v1h-1zM104 162h1v1h-1zM106 162h7v1h-7zM114 162h3v1h-3zM118 162h1v1h-1zM120 162h15v1h-15zM141 162h1v1h-1zM143 162h1v1h-1zM99 163h2v1h-2zM102 163h1v1h-1zM104 163h2v1h-2zM107 163h7v1h-7zM116 163h2v1h-2zM120 163h3v1h-3zM125 163h1v1h-1zM128 163h10v1h-10zM139 163h1v1h-1zM141 163h1v1h-1zM94 164h1v1h-1zM96 164h1v1h-1zM101 164h5v1h-5zM107 164h1v1h-1zM110 164h1v1h-1zM112 164h2v1h-2zM116 164h2v1h-2zM123 164h1v1h-1zM129 164h2v1h-2zM132 164h8v1h-8zM96 165h1v1h-1zM98 165h3v1h-3zM102 165h1v1h-1zM107 165h2v1h-2zM117 165h3v1h-3zM129 165h2v1h-2zM132 165h1v1h-1zM134 165h6v1h-6zM97 166h2v1h-2zM100 166h6v1h-6zM108 166h1v1h-1zM126 166h1v1h-1zM128 166h1v1h-1zM130 166h1v1h-1zM133 166h1v1h-1zM135 166h4v1h-4zM143 166h1v1h-1zM146 166h1v1h-1zM90 167h2v1h-2zM93 167h1v1h-1zM95 167h1v1h-1zM97 167h3v1h-3zM101 167h1v1h-1zM106 167h1v1h-1zM116 167h1v1h-1zM129 167h1v1h-1zM131 167h1v1h-1zM135 167h2v1h-2zM140 167h3v1h-3zM144 167h1v1h-1zM91 168h4v1h-4zM135 168h2v1h-2zM138 168h2v1h-2zM141 168h1v1h-1zM86 169h8v1h-8zM95 169h1v1h-1zM136 169h4v1h-4zM142 169h1v1h-1zM84 170h6v1h-6zM91 170h1v1h-1zM94 170h1v1h-1zM135 170h3v1h-3zM139 170h3v1h-3zM80 171h1v1h-1zM82 171h2v1h-2zM85 171h2v1h-2zM88 171h1v1h-1zM135 171h1v1h-1zM138 171h6v1h-6zM145 171h1v1h-1zM77 172h1v1h-1zM79 172h7v1h-7zM138 172h1v1h-1zM140 172h2v1h-2zM143 172h2v1h-2zM148 172h1v1h-1zM78 173h2v1h-2zM81 173h1v1h-1zM84 173h1v1h-1zM136 173h1v1h-1zM138 173h4v1h-4zM143 173h3v1h-3zM147 173h1v1h-1zM71 174h1v1h-1zM74 174h4v1h-4zM82 174h1v1h-1zM138 174h1v1h-1zM141 174h1v1h-1zM143 174h2v1h-2zM72 175h6v1h-6zM139 175h4v1h-4zM69 176h2v1h-2zM73 176h2v1h-2zM77 176h1v1h-1zM140 176h6v1h-6zM66 177h3v1h-3zM70 177h1v1h-1zM74 177h1v1h-1zM140 177h5v1h-5zM61 178h1v1h-1zM64 178h2v1h-2zM67 178h2v1h-2zM71 178h1v1h-1zM73 178h1v1h-1zM138 178h2v1h-2zM141 178h1v1h-1zM143 178h2v1h-2zM55 179h1v1h-1zM60 179h2v1h-2zM63 179h4v1h-4zM68 179h1v1h-1zM70 179h1v1h-1zM138 179h2v1h-2zM143 179h2v1h-2zM50 180h1v1h-1zM52 180h1v1h-1zM56 180h1v1h-1zM58 180h7v1h-7zM66 180h1v1h-1zM135 180h1v1h-1zM142 180h1v1h-1zM51 181h1v1h-1zM54 181h1v1h-1zM56 181h6v1h-6zM63 181h1v1h-1zM70 181h1v1h-1zM134 181h1v1h-1zM136 181h1v1h-1zM138 181h3v1h-3zM45 182h2v1h-2zM49 182h7v1h-7zM57 182h3v1h-3zM62 182h1v1h-1zM134 182h3v1h-3zM138 182h1v1h-1zM41 183h1v1h-1zM43 183h1v1h-1zM45 183h3v1h-3zM49 183h2v1h-2zM53 183h4v1h-4zM60 183h2v1h-2zM131 183h1v1h-1zM134 183h1v1h-1zM137 183h1v1h-1zM42 184h3v1h-3zM46 184h1v1h-1zM48 184h2v1h-2zM51 184h1v1h-1zM53 184h2v1h-2zM56 184h1v1h-1zM128 184h7v1h-7zM44 185h1v1h-1zM46 185h1v1h-1zM48 185h3v1h-3zM52 185h1v1h-1zM124 185h1v1h-1zM127 185h1v1h-1zM129 185h3v1h-3zM45 186h4v1h-4zM51 186h2v1h-2zM58 186h1v1h-1zM60 186h1v1h-1zM123 186h4v1h-4zM129 186h1v1h-1zM42 187h1v1h-1zM44 187h5v1h-5zM52 187h1v1h-1zM118 187h1v1h-1zM120 187h2v1h-2zM123 187h1v1h-1zM125 187h3v1h-3zM45 188h4v1h-4zM53 188h1v1h-1zM55 188h1v1h-1zM59 188h1v1h-1zM61 188h1v1h-1zM70 188h1v1h-1zM111 188h1v1h-1zM113 188h2v1h-2zM116 188h2v1h-2zM119 188h3v1h-3zM40 189h1v1h-1zM43 189h3v1h-3zM47 189h1v1h-1zM49 189h1v1h-1zM54 189h1v1h-1zM58 189h4v1h-4zM63 189h1v1h-1zM66 189h1v1h-1zM75 189h1v1h-1zM111 189h1v1h-1zM113 189h4v1h-4zM118 189h1v1h-1zM47 190h7v1h-7zM55 190h1v1h-1zM57 190h3v1h-3zM64 190h2v1h-2zM69 190h1v1h-1zM72 190h1v1h-1zM96 190h1v1h-1zM101 190h2v1h-2zM108 190h5v1h-5zM41 191h1v1h-1zM43 191h1v1h-1zM45 191h4v1h-4zM50 191h1v1h-1zM52 191h3v1h-3zM56 191h2v1h-2zM63 191h2v1h-2zM66 191h2v1h-2zM69 191h1v1h-1zM73 191h1v1h-1zM78 191h1v1h-1zM80 191h1v1h-1zM84 191h1v1h-1zM86 191h3v1h-3zM92 191h1v1h-1zM94 191h1v1h-1zM96 191h3v1h-3zM101 191h2v1h-2zM104 191h6v1h-6zM111 191h1v1h-1zM46 192h9v1h-9zM56 192h1v1h-1zM59 192h7v1h-7zM67 192h6v1h-6zM74 192h10v1h-10zM86 192h3v1h-3zM90 192h1v1h-1zM92 192h6v1h-6zM100 192h2v1h-2zM103 192h3v1h-3zM45 193h4v1h-4zM50 193h1v1h-1zM52 193h6v1h-6zM59 193h6v1h-6zM67 193h6v1h-6zM74 193h4v1h-4zM79 193h10v1h-10zM90 193h3v1h-3zM95 193h1v1h-1zM45 194h1v1h-1zM49 194h9v1h-9zM60 194h8v1h-8zM69 194h2v1h-2zM72 194h1v1h-1zM74 194h2v1h-2zM77 194h1v1h-1zM84 194h1v1h-1zM92 194h1v1h-1zM47 195h1v1h-1zM49 195h1v1h-1zM52 195h1v1h-1zM54 195h1v1h-1zM56 195h2v1h-2zM60 195h4v1h-4zM65 195h1v1h-1zM68 195h1v1h-1zM71 195h1v1h-1zM77 195h1v1h-1zM47 196h2v1h-2zM52 196h5v1h-5zM58 196h3v1h-3zM62 196h1v1h-1zM66 196h1v1h-1zM49 197h1v1h-1zM52 197h1v1h-1zM56 197h1v1h-1zM60 197h1v1h-1zM63 197h1v1h-1zM52 199h2v1h-2zM39 201h1v1h-1zM41 201h2v1h-2zM40 202h1v1h-1zM42 202h1v1h-1zM40 203h3v1h-3zM42 204h1v1h-1zM42 205h1v1h-1zM39 206h2v1h-2z"/><path fill="#3ca4f0" d="M123 160h1v1h-1zM116 161h1v1h-1zM125 161h2v1h-2zM113 162h1v1h-1zM119 162h1v1h-1zM114 163h2v1h-2zM118 163h2v1h-2zM123 163h1v1h-1zM127 163h1v1h-1zM106 164h1v1h-1zM108 164h1v1h-1zM111 164h1v1h-1zM114 164h2v1h-2zM118 164h5v1h-5zM124 164h5v1h-5zM131 164h1v1h-1zM101 165h1v1h-1zM104 165h3v1h-3zM109 165h8v1h-8zM121 165h8v1h-8zM131 165h1v1h-1zM133 165h1v1h-1zM99 166h1v1h-1zM106 166h2v1h-2zM109 166h2v1h-2zM112 166h2v1h-2zM116 166h1v1h-1zM120 166h6v1h-6zM127 166h1v1h-1zM129 166h1v1h-1zM131 166h2v1h-2zM100 167h1v1h-1zM102 167h3v1h-3zM107 167h2v1h-2zM110 167h5v1h-5zM119 167h2v1h-2zM124 167h5v1h-5zM133 167h2v1h-2zM95 168h8v1h-8zM104 168h2v1h-2zM108 168h1v1h-1zM112 168h1v1h-1zM115 168h1v1h-1zM118 168h1v1h-1zM121 168h1v1h-1zM125 168h1v1h-1zM129 168h6v1h-6zM94 169h1v1h-1zM96 169h2v1h-2zM99 169h2v1h-2zM102 169h2v1h-2zM118 169h1v1h-1zM121 169h1v1h-1zM124 169h7v1h-7zM132 169h2v1h-2zM135 169h1v1h-1zM90 170h1v1h-1zM92 170h2v1h-2zM95 170h1v1h-1zM97 170h1v1h-1zM130 170h5v1h-5zM138 170h1v1h-1zM87 171h1v1h-1zM89 171h8v1h-8zM131 171h2v1h-2zM134 171h1v1h-1zM136 171h2v1h-2zM86 172h3v1h-3zM91 172h1v1h-1zM130 172h3v1h-3zM135 172h3v1h-3zM139 172h1v1h-1zM80 173h1v1h-1zM82 173h2v1h-2zM133 173h2v1h-2zM79 174h3v1h-3zM83 174h2v1h-2zM135 174h3v1h-3zM139 174h2v1h-2zM78 175h1v1h-1zM80 175h1v1h-1zM82 175h1v1h-1zM87 175h1v1h-1zM133 175h1v1h-1zM135 175h1v1h-1zM137 175h2v1h-2zM143 175h1v1h-1zM75 176h1v1h-1zM78 176h1v1h-1zM80 176h1v1h-1zM132 176h1v1h-1zM138 176h2v1h-2zM71 177h3v1h-3zM75 177h1v1h-1zM136 177h4v1h-4zM66 178h1v1h-1zM69 178h2v1h-2zM72 178h1v1h-1zM75 178h2v1h-2zM133 178h1v1h-1zM135 178h1v1h-1zM137 178h1v1h-1zM140 178h1v1h-1zM67 179h1v1h-1zM69 179h1v1h-1zM71 179h1v1h-1zM74 179h1v1h-1zM136 179h2v1h-2zM65 180h1v1h-1zM67 180h2v1h-2zM71 180h1v1h-1zM130 180h1v1h-1zM136 180h3v1h-3zM62 181h1v1h-1zM64 181h4v1h-4zM69 181h1v1h-1zM130 181h1v1h-1zM135 181h1v1h-1zM137 181h1v1h-1zM56 182h1v1h-1zM60 182h2v1h-2zM63 182h3v1h-3zM68 182h2v1h-2zM131 182h3v1h-3zM57 183h3v1h-3zM62 183h1v1h-1zM64 183h2v1h-2zM130 183h1v1h-1zM132 183h1v1h-1zM52 184h1v1h-1zM55 184h1v1h-1zM57 184h4v1h-4zM62 184h2v1h-2zM65 184h2v1h-2zM69 184h1v1h-1zM125 184h3v1h-3zM47 185h1v1h-1zM51 185h1v1h-1zM53 185h2v1h-2zM56 185h4v1h-4zM61 185h2v1h-2zM64 185h5v1h-5zM125 185h2v1h-2zM128 185h1v1h-1zM50 186h1v1h-1zM53 186h2v1h-2zM56 186h2v1h-2zM59 186h1v1h-1zM63 186h2v1h-2zM66 186h3v1h-3zM115 186h1v1h-1zM120 186h3v1h-3zM49 187h3v1h-3zM53 187h12v1h-12zM67 187h1v1h-1zM70 187h3v1h-3zM114 187h1v1h-1zM116 187h1v1h-1zM122 187h1v1h-1zM49 188h2v1h-2zM52 188h1v1h-1zM54 188h1v1h-1zM56 188h3v1h-3zM60 188h1v1h-1zM62 188h2v1h-2zM65 188h2v1h-2zM69 188h1v1h-1zM112 188h1v1h-1zM115 188h1v1h-1zM50 189h2v1h-2zM53 189h1v1h-1zM55 189h2v1h-2zM62 189h1v1h-1zM64 189h2v1h-2zM67 189h1v1h-1zM70 189h5v1h-5zM78 189h1v1h-1zM81 189h1v1h-1zM83 189h1v1h-1zM92 189h1v1h-1zM94 189h1v1h-1zM104 189h3v1h-3zM108 189h3v1h-3zM112 189h1v1h-1zM54 190h1v1h-1zM56 190h1v1h-1zM60 190h1v1h-1zM62 190h2v1h-2zM66 190h3v1h-3zM70 190h2v1h-2zM73 190h3v1h-3zM77 190h11v1h-11zM89 190h2v1h-2zM92 190h4v1h-4zM98 190h3v1h-3zM103 190h2v1h-2zM106 190h1v1h-1zM49 191h1v1h-1zM51 191h1v1h-1zM55 191h1v1h-1zM59 191h4v1h-4zM65 191h1v1h-1zM72 191h1v1h-1zM74 191h1v1h-1zM76 191h2v1h-2zM79 191h1v1h-1zM81 191h3v1h-3zM85 191h1v1h-1zM89 191h3v1h-3zM93 191h1v1h-1zM95 191h1v1h-1zM103 191h1v1h-1zM57 192h2v1h-2zM51 193h1v1h-1zM58 194h1v1h-1zM39 203h1v1h-1zM39 204h3v1h-3zM39 205h1v1h-1zM41 205h1v1h-1z"/><path fill="#42ccdc" d="M111 166h1v1h-1zM115 166h1v1h-1zM117 166h3v1h-3zM109 167h1v1h-1zM115 167h1v1h-1zM117 167h2v1h-2zM121 167h3v1h-3zM103 168h1v1h-1zM106 168h2v1h-2zM110 168h2v1h-2zM113 168h1v1h-1zM116 168h2v1h-2zM119 168h1v1h-1zM122 168h1v1h-1zM124 168h1v1h-1zM127 168h2v1h-2zM98 169h1v1h-1zM101 169h1v1h-1zM110 169h1v1h-1zM112 169h2v1h-2zM116 169h2v1h-2zM120 169h1v1h-1zM123 169h1v1h-1zM134 169h1v1h-1zM98 170h3v1h-3zM103 170h1v1h-1zM105 170h1v1h-1zM111 170h1v1h-1zM115 170h1v1h-1zM119 170h1v1h-1zM121 170h1v1h-1zM124 170h4v1h-4zM129 170h1v1h-1zM103 171h1v1h-1zM123 171h1v1h-1zM125 171h1v1h-1zM127 171h4v1h-4zM133 171h1v1h-1zM89 172h2v1h-2zM92 172h1v1h-1zM96 172h1v1h-1zM134 172h1v1h-1zM86 173h1v1h-1zM88 173h1v1h-1zM126 173h1v1h-1zM132 173h1v1h-1zM135 173h1v1h-1zM137 173h1v1h-1zM85 174h1v1h-1zM87 174h1v1h-1zM90 174h1v1h-1zM132 174h3v1h-3zM79 175h1v1h-1zM81 175h1v1h-1zM83 175h3v1h-3zM131 175h2v1h-2zM76 176h1v1h-1zM82 176h3v1h-3zM133 176h5v1h-5zM76 177h1v1h-1zM78 177h2v1h-2zM131 177h1v1h-1zM74 178h1v1h-1zM77 178h1v1h-1zM131 178h1v1h-1zM73 179h1v1h-1zM129 179h1v1h-1zM131 179h5v1h-5zM69 180h2v1h-2zM132 180h3v1h-3zM68 181h1v1h-1zM128 181h2v1h-2zM132 181h2v1h-2zM67 182h1v1h-1zM125 182h1v1h-1zM128 182h1v1h-1zM63 183h1v1h-1zM66 183h2v1h-2zM71 183h1v1h-1zM123 183h1v1h-1zM125 183h5v1h-5zM64 184h1v1h-1zM67 184h1v1h-1zM71 184h3v1h-3zM122 184h1v1h-1zM60 185h1v1h-1zM63 185h1v1h-1zM70 185h1v1h-1zM72 185h1v1h-1zM74 185h2v1h-2zM118 185h1v1h-1zM120 185h3v1h-3zM55 186h1v1h-1zM62 186h1v1h-1zM65 186h1v1h-1zM69 186h1v1h-1zM71 186h1v1h-1zM76 186h1v1h-1zM86 186h1v1h-1zM111 186h1v1h-1zM117 186h3v1h-3zM66 187h1v1h-1zM68 187h2v1h-2zM107 187h2v1h-2zM112 187h2v1h-2zM115 187h1v1h-1zM117 187h1v1h-1zM67 188h2v1h-2zM71 188h3v1h-3zM75 188h3v1h-3zM80 188h1v1h-1zM89 188h1v1h-1zM106 188h5v1h-5zM68 189h2v1h-2zM76 189h2v1h-2zM79 189h2v1h-2zM82 189h1v1h-1zM84 189h1v1h-1zM91 189h1v1h-1zM93 189h1v1h-1zM99 189h1v1h-1zM102 189h1v1h-1zM107 189h1v1h-1zM88 190h1v1h-1zM91 190h1v1h-1zM97 190h1v1h-1z"/><path fill="#4ae2ac" d="M114 166h1v1h-1zM114 168h1v1h-1zM120 168h1v1h-1zM126 168h1v1h-1zM105 169h1v1h-1zM107 169h1v1h-1zM111 169h1v1h-1zM115 169h1v1h-1zM96 170h1v1h-1zM102 170h1v1h-1zM104 170h1v1h-1zM106 170h2v1h-2zM109 170h1v1h-1zM112 170h1v1h-1zM117 170h1v1h-1zM123 170h1v1h-1zM128 170h1v1h-1zM97 171h3v1h-3zM101 171h1v1h-1zM104 171h2v1h-2zM107 171h3v1h-3zM111 171h1v1h-1zM93 172h3v1h-3zM118 172h1v1h-1zM124 172h2v1h-2zM127 172h3v1h-3zM133 172h1v1h-1zM85 173h1v1h-1zM89 173h5v1h-5zM97 173h2v1h-2zM124 173h2v1h-2zM130 173h2v1h-2zM86 174h1v1h-1zM130 175h1v1h-1zM134 175h1v1h-1zM136 175h1v1h-1zM79 176h1v1h-1zM86 176h1v1h-1zM131 176h1v1h-1zM77 177h1v1h-1zM82 177h3v1h-3zM133 177h3v1h-3zM132 178h1v1h-1zM136 178h1v1h-1zM72 179h1v1h-1zM76 179h1v1h-1zM78 179h1v1h-1zM130 179h1v1h-1zM74 180h1v1h-1zM76 180h1v1h-1zM131 180h1v1h-1zM72 181h5v1h-5zM131 181h1v1h-1zM70 182h2v1h-2zM80 182h1v1h-1zM126 182h1v1h-1zM129 182h2v1h-2zM69 183h2v1h-2zM72 183h1v1h-1zM76 183h1v1h-1zM124 183h1v1h-1zM68 184h1v1h-1zM80 184h1v1h-1zM119 184h2v1h-2zM123 184h1v1h-1zM71 185h1v1h-1zM83 185h1v1h-1zM119 185h1v1h-1zM123 185h1v1h-1zM75 186h1v1h-1zM78 186h1v1h-1zM116 186h1v1h-1zM65 187h1v1h-1zM73 187h1v1h-1zM76 187h1v1h-1zM99 187h2v1h-2zM110 187h1v1h-1zM78 188h1v1h-1zM81 188h1v1h-1zM83 188h1v1h-1zM88 188h1v1h-1zM90 188h1v1h-1zM94 188h2v1h-2zM97 188h1v1h-1zM101 188h1v1h-1zM103 188h1v1h-1zM105 188h1v1h-1zM85 189h2v1h-2zM88 189h3v1h-3zM97 189h1v1h-1zM101 189h1v1h-1zM103 189h1v1h-1z"/><path fill="#40e044" d="M123 168h1v1h-1zM108 169h1v1h-1zM114 169h1v1h-1zM119 169h1v1h-1zM122 169h1v1h-1zM108 170h1v1h-1zM110 170h1v1h-1zM113 170h2v1h-2zM116 170h1v1h-1zM118 170h1v1h-1zM120 170h1v1h-1zM122 170h1v1h-1zM100 171h1v1h-1zM102 171h1v1h-1zM106 171h1v1h-1zM110 171h1v1h-1zM112 171h11v1h-11zM124 171h1v1h-1zM126 171h1v1h-1zM97 172h21v1h-21zM119 172h5v1h-5zM126 172h1v1h-1zM87 173h1v1h-1zM94 173h3v1h-3zM99 173h25v1h-25zM127 173h3v1h-3zM88 174h2v1h-2zM91 174h41v1h-41zM86 175h1v1h-1zM88 175h21v1h-21zM110 175h1v1h-1zM114 175h1v1h-1zM116 175h14v1h-14zM81 176h1v1h-1zM85 176h1v1h-1zM87 176h10v1h-10zM98 176h4v1h-4zM103 176h2v1h-2zM106 176h2v1h-2zM110 176h1v1h-1zM112 176h19v1h-19zM80 177h2v1h-2zM85 177h11v1h-11zM97 177h1v1h-1zM99 177h3v1h-3zM106 177h1v1h-1zM110 177h2v1h-2zM114 177h17v1h-17zM78 178h16v1h-16zM96 178h1v1h-1zM98 178h1v1h-1zM106 178h1v1h-1zM109 178h1v1h-1zM111 178h1v1h-1zM113 178h1v1h-1zM116 178h10v1h-10zM127 178h4v1h-4zM134 178h1v1h-1zM75 179h1v1h-1zM77 179h1v1h-1zM79 179h11v1h-11zM91 179h4v1h-4zM99 179h1v1h-1zM107 179h1v1h-1zM110 179h1v1h-1zM114 179h1v1h-1zM116 179h1v1h-1zM118 179h11v1h-11zM72 180h2v1h-2zM75 180h1v1h-1zM77 180h18v1h-18zM101 180h2v1h-2zM107 180h5v1h-5zM116 180h2v1h-2zM119 180h11v1h-11zM77 181h10v1h-10zM88 181h1v1h-1zM90 181h4v1h-4zM95 181h1v1h-1zM98 181h1v1h-1zM104 181h4v1h-4zM111 181h1v1h-1zM113 181h15v1h-15zM72 182h8v1h-8zM81 182h8v1h-8zM91 182h1v1h-1zM94 182h2v1h-2zM97 182h1v1h-1zM103 182h1v1h-1zM107 182h1v1h-1zM112 182h13v1h-13zM127 182h1v1h-1zM73 183h3v1h-3zM77 183h9v1h-9zM89 183h2v1h-2zM92 183h2v1h-2zM95 183h1v1h-1zM98 183h2v1h-2zM104 183h19v1h-19zM70 184h1v1h-1zM74 184h6v1h-6zM81 184h8v1h-8zM91 184h1v1h-1zM93 184h5v1h-5zM100 184h19v1h-19zM121 184h1v1h-1zM124 184h1v1h-1zM69 185h1v1h-1zM73 185h1v1h-1zM76 185h7v1h-7zM84 185h3v1h-3zM88 185h11v1h-11zM100 185h1v1h-1zM102 185h16v1h-16zM70 186h1v1h-1zM72 186h3v1h-3zM77 186h1v1h-1zM79 186h7v1h-7zM87 186h24v1h-24zM112 186h3v1h-3zM74 187h2v1h-2zM77 187h22v1h-22zM101 187h6v1h-6zM109 187h1v1h-1zM111 187h1v1h-1zM74 188h1v1h-1zM79 188h1v1h-1zM82 188h1v1h-1zM84 188h4v1h-4zM91 188h3v1h-3zM96 188h1v1h-1zM98 188h3v1h-3zM102 188h1v1h-1zM104 188h1v1h-1zM87 189h1v1h-1zM96 189h1v1h-1zM98 189h1v1h-1zM100 189h1v1h-1z"/><path fill="#7ee040" d="M109 175h1v1h-1zM111 175h3v1h-3zM115 175h1v1h-1zM97 176h1v1h-1zM102 176h1v1h-1zM108 176h2v1h-2zM111 176h1v1h-1zM96 177h1v1h-1zM98 177h1v1h-1zM102 177h4v1h-4zM108 177h1v1h-1zM113 177h1v1h-1zM94 178h1v1h-1zM97 178h1v1h-1zM99 178h1v1h-1zM107 178h1v1h-1zM112 178h1v1h-1zM114 178h2v1h-2zM126 178h1v1h-1zM90 179h1v1h-1zM96 179h1v1h-1zM104 179h1v1h-1zM106 179h1v1h-1zM108 179h1v1h-1zM113 179h1v1h-1zM115 179h1v1h-1zM117 179h1v1h-1zM96 180h1v1h-1zM98 180h3v1h-3zM104 180h1v1h-1zM112 180h4v1h-4zM118 180h1v1h-1zM87 181h1v1h-1zM94 181h1v1h-1zM97 181h1v1h-1zM99 181h1v1h-1zM101 181h3v1h-3zM108 181h1v1h-1zM112 181h1v1h-1zM90 182h1v1h-1zM92 182h2v1h-2zM96 182h1v1h-1zM104 182h3v1h-3zM108 182h3v1h-3zM86 183h3v1h-3zM91 183h1v1h-1zM94 183h1v1h-1zM97 183h1v1h-1zM100 183h4v1h-4zM89 184h2v1h-2zM92 184h1v1h-1zM98 184h2v1h-2zM87 185h1v1h-1zM99 185h1v1h-1zM101 185h1v1h-1z"/><ellipse cx="105.8" cy="184.6" rx="5.3" ry="2.2" fill="#f0b040"/><ellipse cx="105.5" cy="184.9" rx="3.4" ry="1.4" fill="#f07030"/><ellipse cx="42" cy="204" rx="4" ry="2.6" fill="#46d0c0" fill-opacity="0.8"/><ellipse cx="40.5" cy="205" rx="2.4" ry="1.6" fill="#60e060"/><ellipse cx="39.6" cy="205.8" rx="1.6" ry="1.1" fill="#e02828"/><path d="M38 63H176.6" stroke="#666" stroke-width="1.6" fill="none"/><defs><linearGradient id="rg" x1="0" y1="0" x2="0" y2="1"><stop offset="0" stop-color="#4f8a55"/><stop offset="0.6" stop-color="#6f8f70"/><stop offset="1" stop-color="#888"/></linearGradient></defs><rect x="176.0" y="63" width="1.3" height="144" fill="url(#rg)"/><path d="M38 62.2V207H176.6" stroke="#111" stroke-width="1" fill="none"/><path d="M34 206.5H38M36 194.6H38M36 182.8H38M36 170.9H38M34 159.0H38M36 147.1H38M36 135.2H38M36 123.4H38M34 111.5H38M36 99.6H38M36 87.8H38M36 75.9H38M34 64.0H38M38.0 207V211M46.3 207V209M54.5 207V209M62.8 207V209M71.0 207V209M79.3 207V211M87.6 207V209M95.8 207V209M104.1 207V209M112.3 207V209M120.6 207V211M128.9 207V209M137.1 207V209M145.4 207V209M153.6 207V209M161.9 207V211M170.2 207V209" stroke="#111" stroke-width="1" fill="none"/><text x="32.4" y="67.5" font-size="5.3" font-weight="normal" text-anchor="end" fill="#222" >3.0M</text><text x="32.4" y="113.5" font-size="5.3" font-weight="normal" text-anchor="end" fill="#222" >2.0M</text><text x="32.4" y="161.0" font-size="5.3" font-weight="normal" text-anchor="end" fill="#222" >1.0M</text><text x="32.4" y="208.3" font-size="5.6" font-weight="normal" text-anchor="end" fill="#222" >0</text><text x="39.0" y="217.8" font-size="5.3" font-weight="normal" text-anchor="middle" fill="#222" >0</text><text x="79.8" y="217.8" font-size="5.3" font-weight="normal" text-anchor="middle" fill="#222" >5.0M</text><text x="121.1" y="217.8" font-size="5.3" font-weight="normal" text-anchor="middle" fill="#222" >10M</text><text x="162.39999999999998" y="217.8" font-size="5.3" font-weight="normal" text-anchor="middle" fill="#222" >15M</text><polygon points="62.3,174.4 75.3,155.3 127.8,143.6 154.4,145.6 157.6,162.4 141.7,184.5 106.7,199 75,200.7" fill="none" stroke="#111" stroke-width="1.35"/><rect x="101" y="162.6" width="16.4" height="19.8" fill="#fff" fill-opacity="0.88"/><text x="109.2" y="169.8" font-size="6.4" font-weight="normal" text-anchor="middle" fill="#000" textLength="13" lengthAdjust="spacingAndGlyphs" stroke="#000" stroke-width="0.25">A549</text><text x="109.2" y="178.6" font-size="6.6" font-weight="normal" text-anchor="middle" fill="#000" textLength="12" lengthAdjust="spacingAndGlyphs" stroke="#000" stroke-width="0.25">76.3</text><path fill="#6464d6" d="M358 68h1v1h-1zM291 71h1v1h-1zM353 80h1v1h-1zM309 81h1v1h-1zM313 85h1v1h-1zM304 89h1v1h-1zM329 89h1v1h-1zM334 90h1v1h-1zM300 91h1v1h-1zM334 91h1v1h-1zM337 91h1v1h-1zM312 92h1v1h-1zM328 92h1v1h-1zM288 93h1v1h-1zM320 93h1v1h-1zM330 93h1v1h-1zM337 93h1v1h-1zM302 94h1v1h-1zM326 94h1v1h-1zM331 94h1v1h-1zM333 94h1v1h-1zM338 94h1v1h-1zM343 94h1v1h-1zM348 94h1v1h-1zM304 95h1v1h-1zM308 95h1v1h-1zM315 95h1v1h-1zM320 95h1v1h-1zM323 95h4v1h-4zM328 95h2v1h-2zM337 95h1v1h-1zM343 95h3v1h-3zM290 96h1v1h-1zM298 96h1v1h-1zM303 96h1v1h-1zM313 96h1v1h-1zM318 96h1v1h-1zM320 96h1v1h-1zM322 96h1v1h-1zM331 96h2v1h-2zM339 96h1v1h-1zM348 96h1v1h-1zM296 97h1v1h-1zM300 97h1v1h-1zM304 97h1v1h-1zM307 97h1v1h-1zM316 97h1v1h-1zM327 97h2v1h-2zM335 97h1v1h-1zM343 97h1v1h-1zM317 98h2v1h-2zM320 98h1v1h-1zM322 98h1v1h-1zM326 98h1v1h-1zM332 98h1v1h-1zM341 98h1v1h-1zM344 98h1v1h-1zM286 99h1v1h-1zM289 99h1v1h-1zM299 99h1v1h-1zM304 99h1v1h-1zM312 99h1v1h-1zM315 99h2v1h-2zM322 99h1v1h-1zM328 99h1v1h-1zM331 99h1v1h-1zM334 99h1v1h-1zM345 99h1v1h-1zM283 100h1v1h-1zM306 100h1v1h-1zM308 100h1v1h-1zM310 100h1v1h-1zM313 100h1v1h-1zM317 100h1v1h-1zM319 100h1v1h-1zM321 100h1v1h-1zM324 100h2v1h-2zM328 100h1v1h-1zM336 100h1v1h-1zM340 100h2v1h-2zM344 100h1v1h-1zM348 100h1v1h-1zM296 101h1v1h-1zM302 101h1v1h-1zM318 101h1v1h-1zM324 101h1v1h-1zM327 101h1v1h-1zM336 101h1v1h-1zM340 101h2v1h-2zM299 102h1v1h-1zM303 102h1v1h-1zM310 102h1v1h-1zM318 102h2v1h-2zM321 102h1v1h-1zM325 102h1v1h-1zM328 102h5v1h-5zM334 102h2v1h-2zM337 102h1v1h-1zM344 102h1v1h-1zM305 103h1v1h-1zM309 103h1v1h-1zM312 103h1v1h-1zM315 103h2v1h-2zM319 103h1v1h-1zM323 103h2v1h-2zM327 103h2v1h-2zM330 103h1v1h-1zM333 103h1v1h-1zM336 103h1v1h-1zM338 103h1v1h-1zM340 103h1v1h-1zM342 103h1v1h-1zM357 103h1v1h-1zM300 104h1v1h-1zM312 104h1v1h-1zM315 104h1v1h-1zM320 104h1v1h-1zM324 104h2v1h-2zM327 104h3v1h-3zM336 104h1v1h-1zM341 104h2v1h-2zM347 104h1v1h-1zM291 105h1v1h-1zM306 105h1v1h-1zM308 105h1v1h-1zM311 105h2v1h-2zM314 105h1v1h-1zM316 105h1v1h-1zM319 105h1v1h-1zM321 105h1v1h-1zM323 105h2v1h-2zM329 105h1v1h-1zM331 105h2v1h-2zM337 105h1v1h-1zM237 106h1v1h-1zM291 106h1v1h-1zM297 106h1v1h-1zM300 106h2v1h-2zM308 106h1v1h-1zM314 106h1v1h-1zM319 106h1v1h-1zM325 106h1v1h-1zM327 106h1v1h-1zM331 106h1v1h-1zM335 106h1v1h-1zM293 107h1v1h-1zM296 107h1v1h-1zM300 107h1v1h-1zM317 107h1v1h-1zM320 107h1v1h-1zM328 107h2v1h-2zM331 107h1v1h-1zM335 107h1v1h-1zM338 107h1v1h-1zM295 108h2v1h-2zM302 108h1v1h-1zM304 108h1v1h-1zM310 108h1v1h-1zM315 108h4v1h-4zM320 108h1v1h-1zM325 108h3v1h-3zM331 108h1v1h-1zM333 108h1v1h-1zM337 108h1v1h-1zM339 108h2v1h-2zM344 108h1v1h-1zM300 109h1v1h-1zM303 109h1v1h-1zM307 109h1v1h-1zM310 109h2v1h-2zM317 109h2v1h-2zM321 109h2v1h-2zM324 109h1v1h-1zM326 109h1v1h-1zM331 109h6v1h-6zM339 109h1v1h-1zM277 110h1v1h-1zM313 110h1v1h-1zM317 110h1v1h-1zM319 110h1v1h-1zM322 110h1v1h-1zM325 110h1v1h-1zM329 110h2v1h-2zM332 110h1v1h-1zM338 110h1v1h-1zM290 111h1v1h-1zM295 111h1v1h-1zM297 111h3v1h-3zM302 111h3v1h-3zM307 111h1v1h-1zM309 111h1v1h-1zM312 111h2v1h-2zM317 111h1v1h-1zM319 111h1v1h-1zM321 111h1v1h-1zM324 111h2v1h-2zM328 111h1v1h-1zM330 111h2v1h-2zM333 111h1v1h-1zM336 111h2v1h-2zM344 111h1v1h-1zM347 111h1v1h-1zM272 112h1v1h-1zM301 112h1v1h-1zM304 112h2v1h-2zM308 112h1v1h-1zM310 112h1v1h-1zM314 112h2v1h-2zM319 112h3v1h-3zM328 112h1v1h-1zM331 112h2v1h-2zM338 112h1v1h-1zM343 112h1v1h-1zM276 113h1v1h-1zM284 113h1v1h-1zM292 113h1v1h-1zM296 113h1v1h-1zM299 113h1v1h-1zM309 113h2v1h-2zM313 113h3v1h-3zM318 113h3v1h-3zM324 113h1v1h-1zM328 113h1v1h-1zM337 113h1v1h-1zM339 113h1v1h-1zM341 113h1v1h-1zM344 113h1v1h-1zM290 114h1v1h-1zM301 114h1v1h-1zM308 114h1v1h-1zM310 114h2v1h-2zM313 114h2v1h-2zM316 114h1v1h-1zM319 114h2v1h-2zM327 114h4v1h-4zM335 114h1v1h-1zM346 114h1v1h-1zM293 115h1v1h-1zM296 115h1v1h-1zM300 115h1v1h-1zM302 115h1v1h-1zM305 115h1v1h-1zM313 115h1v1h-1zM316 115h1v1h-1zM320 115h2v1h-2zM323 115h2v1h-2zM327 115h2v1h-2zM330 115h1v1h-1zM334 115h3v1h-3zM289 116h1v1h-1zM294 116h1v1h-1zM296 116h1v1h-1zM298 116h1v1h-1zM304 116h1v1h-1zM307 116h1v1h-1zM309 116h1v1h-1zM312 116h1v1h-1zM315 116h2v1h-2zM318 116h1v1h-1zM325 116h5v1h-5zM331 116h1v1h-1zM333 116h2v1h-2zM292 117h1v1h-1zM300 117h1v1h-1zM306 117h2v1h-2zM314 117h2v1h-2zM318 117h1v1h-1zM323 117h1v1h-1zM325 117h1v1h-1zM330 117h1v1h-1zM341 117h1v1h-1zM346 117h1v1h-1zM282 118h1v1h-1zM300 118h1v1h-1zM308 118h1v1h-1zM310 118h2v1h-2zM313 118h1v1h-1zM315 118h2v1h-2zM319 118h3v1h-3zM326 118h1v1h-1zM328 118h3v1h-3zM332 118h2v1h-2zM337 118h1v1h-1zM344 118h1v1h-1zM292 119h1v1h-1zM299 119h2v1h-2zM310 119h1v1h-1zM320 119h1v1h-1zM328 119h1v1h-1zM332 119h1v1h-1zM341 119h2v1h-2zM299 120h2v1h-2zM303 120h3v1h-3zM310 120h1v1h-1zM312 120h1v1h-1zM316 120h1v1h-1zM319 120h1v1h-1zM323 120h1v1h-1zM333 120h1v1h-1zM337 120h4v1h-4zM302 121h1v1h-1zM311 121h1v1h-1zM322 121h1v1h-1zM325 121h2v1h-2zM332 121h1v1h-1zM335 121h2v1h-2zM288 122h1v1h-1zM296 122h1v1h-1zM300 122h1v1h-1zM305 122h1v1h-1zM324 122h2v1h-2zM329 122h3v1h-3zM336 122h1v1h-1zM344 122h1v1h-1zM265 123h1v1h-1zM292 123h1v1h-1zM307 123h2v1h-2zM310 123h1v1h-1zM317 123h1v1h-1zM321 123h1v1h-1zM325 123h1v1h-1zM331 123h1v1h-1zM333 123h2v1h-2zM338 123h2v1h-2zM297 124h1v1h-1zM301 124h1v1h-1zM312 124h1v1h-1zM315 124h2v1h-2zM319 124h2v1h-2zM323 124h1v1h-1zM326 124h1v1h-1zM329 124h1v1h-1zM338 124h2v1h-2zM288 125h1v1h-1zM298 125h1v1h-1zM315 125h1v1h-1zM327 125h1v1h-1zM330 125h1v1h-1zM334 125h1v1h-1zM346 125h1v1h-1zM290 126h1v1h-1zM292 126h1v1h-1zM303 126h1v1h-1zM308 126h1v1h-1zM315 126h1v1h-1zM324 126h1v1h-1zM327 126h1v1h-1zM332 126h1v1h-1zM282 127h1v1h-1zM299 127h1v1h-1zM301 127h1v1h-1zM308 127h1v1h-1zM314 127h1v1h-1zM316 127h2v1h-2zM319 127h1v1h-1zM323 127h1v1h-1zM325 127h1v1h-1zM328 127h1v1h-1zM332 127h1v1h-1zM296 128h1v1h-1zM300 128h1v1h-1zM303 128h1v1h-1zM309 128h1v1h-1zM317 128h2v1h-2zM328 128h3v1h-3zM333 128h1v1h-1zM337 128h1v1h-1zM276 129h1v1h-1zM288 129h1v1h-1zM301 129h2v1h-2zM312 129h1v1h-1zM315 129h1v1h-1zM317 129h1v1h-1zM319 129h1v1h-1zM321 129h1v1h-1zM323 129h1v1h-1zM329 129h1v1h-1zM340 129h1v1h-1zM343 129h1v1h-1zM295 130h1v1h-1zM300 130h1v1h-1zM307 130h1v1h-1zM309 130h1v1h-1zM311 130h1v1h-1zM316 130h1v1h-1zM318 130h2v1h-2zM322 130h1v1h-1zM324 130h1v1h-1zM326 130h2v1h-2zM331 130h1v1h-1zM333 130h1v1h-1zM337 130h1v1h-1zM244 131h1v1h-1zM295 131h1v1h-1zM297 131h1v1h-1zM303 131h2v1h-2zM315 131h1v1h-1zM317 131h1v1h-1zM321 131h2v1h-2zM324 131h1v1h-1zM331 131h1v1h-1zM335 131h2v1h-2zM339 131h1v1h-1zM306 132h1v1h-1zM316 132h3v1h-3zM321 132h1v1h-1zM325 132h4v1h-4zM330 132h2v1h-2zM334 132h1v1h-1zM336 132h2v1h-2zM339 132h1v1h-1z"/><path fill="#7070dc" d="M344 134h1v1h-1zM343 135h1v1h-1zM293 136h1v1h-1zM342 136h1v1h-1zM344 136h1v1h-1zM342 137h1v1h-1zM246 139h1v1h-1zM274 139h1v1h-1zM289 139h1v1h-1zM287 140h1v1h-1zM285 141h1v1h-1zM282 144h1v1h-1zM280 145h1v1h-1zM339 145h1v1h-1zM344 145h1v1h-1zM342 146h1v1h-1zM334 149h1v1h-1zM262 153h1v1h-1zM332 154h1v1h-1zM271 155h2v1h-2zM259 157h1v1h-1zM272 159h1v1h-1zM267 161h1v1h-1zM322 161h1v1h-1zM316 162h1v1h-1zM313 163h1v1h-1zM313 164h1v1h-1zM305 165h1v1h-1zM307 165h1v1h-1zM309 165h1v1h-1zM279 167h1v1h-1zM284 168h1v1h-1zM291 168h1v1h-1zM307 168h1v1h-1zM320 168h1v1h-1zM285 169h1v1h-1zM279 170h1v1h-1zM282 171h1v1h-1zM284 171h1v1h-1zM296 171h1v1h-1zM271 173h1v1h-1zM233 176h1v1h-1zM302 178h1v1h-1zM345 178h1v1h-1zM344 179h1v1h-1zM261 180h1v1h-1zM296 181h1v1h-1zM268 183h1v1h-1zM330 187h1v1h-1zM306 192h1v1h-1zM279 200h1v1h-1z"/><path fill="#3030e0" d="M302 133h2v1h-2zM308 133h1v1h-1zM310 133h4v1h-4zM315 133h1v1h-1zM317 133h1v1h-1zM323 133h4v1h-4zM328 133h1v1h-1zM330 133h1v1h-1zM332 133h5v1h-5zM339 133h1v1h-1zM306 134h1v1h-1zM308 134h2v1h-2zM313 134h1v1h-1zM327 134h4v1h-4zM334 134h1v1h-1zM336 134h1v1h-1zM339 134h1v1h-1zM297 135h1v1h-1zM303 135h1v1h-1zM305 135h3v1h-3zM309 135h1v1h-1zM330 135h4v1h-4zM335 135h1v1h-1zM337 135h1v1h-1zM340 135h1v1h-1zM294 136h1v1h-1zM297 136h1v1h-1zM299 136h2v1h-2zM302 136h2v1h-2zM305 136h1v1h-1zM331 136h2v1h-2zM337 136h2v1h-2zM300 137h1v1h-1zM303 137h1v1h-1zM334 137h3v1h-3zM293 138h1v1h-1zM298 138h2v1h-2zM332 138h6v1h-6zM339 138h2v1h-2zM298 139h1v1h-1zM332 139h3v1h-3zM341 139h1v1h-1zM291 140h1v1h-1zM295 140h1v1h-1zM297 140h1v1h-1zM336 140h1v1h-1zM338 140h2v1h-2zM294 141h1v1h-1zM331 141h1v1h-1zM333 141h1v1h-1zM287 142h2v1h-2zM291 142h1v1h-1zM294 142h1v1h-1zM332 142h3v1h-3zM284 143h1v1h-1zM288 143h5v1h-5zM331 143h3v1h-3zM335 143h1v1h-1zM338 143h1v1h-1zM287 144h4v1h-4zM335 144h1v1h-1zM337 144h1v1h-1zM283 145h1v1h-1zM287 145h1v1h-1zM289 145h2v1h-2zM331 145h1v1h-1zM333 145h1v1h-1zM282 146h2v1h-2zM286 146h3v1h-3zM329 146h2v1h-2zM337 146h1v1h-1zM284 147h1v1h-1zM286 147h2v1h-2zM328 147h3v1h-3zM283 148h1v1h-1zM327 148h1v1h-1zM329 148h1v1h-1zM283 149h3v1h-3zM326 149h6v1h-6zM282 150h2v1h-2zM285 150h1v1h-1zM327 150h2v1h-2zM278 151h1v1h-1zM280 151h1v1h-1zM324 151h3v1h-3zM328 151h1v1h-1zM275 152h1v1h-1zM277 152h3v1h-3zM281 152h3v1h-3zM324 152h1v1h-1zM276 153h1v1h-1zM278 153h1v1h-1zM282 153h2v1h-2zM321 153h2v1h-2zM325 153h1v1h-1zM278 154h1v1h-1zM280 154h1v1h-1zM320 154h1v1h-1zM323 154h1v1h-1zM326 154h1v1h-1zM278 155h3v1h-3zM282 155h2v1h-2zM318 155h2v1h-2zM324 155h1v1h-1zM281 156h1v1h-1zM283 156h1v1h-1zM315 156h4v1h-4zM320 156h1v1h-1zM278 157h1v1h-1zM282 157h1v1h-1zM313 157h5v1h-5zM277 158h2v1h-2zM280 158h1v1h-1zM282 158h1v1h-1zM311 158h1v1h-1zM314 158h1v1h-1zM316 158h1v1h-1zM283 159h1v1h-1zM285 159h1v1h-1zM309 159h2v1h-2zM312 159h3v1h-3zM279 160h1v1h-1zM281 160h2v1h-2zM284 160h2v1h-2zM306 160h3v1h-3zM311 160h1v1h-1zM314 160h1v1h-1zM278 161h3v1h-3zM282 161h1v1h-1zM286 161h1v1h-1zM302 161h2v1h-2zM305 161h4v1h-4zM311 161h2v1h-2zM278 162h1v1h-1zM284 162h2v1h-2zM287 162h4v1h-4zM292 162h2v1h-2zM297 162h4v1h-4zM303 162h1v1h-1zM306 162h1v1h-1zM273 163h1v1h-1zM278 163h1v1h-1zM280 163h1v1h-1zM288 163h1v1h-1zM294 163h1v1h-1zM297 163h1v1h-1zM299 163h2v1h-2zM307 163h1v1h-1zM275 164h1v1h-1zM279 164h1v1h-1zM282 164h1v1h-1zM289 164h2v1h-2zM293 164h2v1h-2zM296 164h1v1h-1zM300 164h1v1h-1zM280 165h1v1h-1zM282 165h2v1h-2zM288 165h1v1h-1zM293 165h1v1h-1zM299 165h1v1h-1zM282 166h1v1h-1zM284 166h1v1h-1zM286 166h1v1h-1zM290 166h1v1h-1zM292 166h3v1h-3zM299 166h2v1h-2zM286 167h1v1h-1zM292 167h1v1h-1zM285 168h1v1h-1zM287 168h1v1h-1z"/><path fill="#2a50f0" d="M321 133h2v1h-2zM315 134h1v1h-1zM317 134h6v1h-6zM324 134h3v1h-3zM308 135h1v1h-1zM310 135h10v1h-10zM321 135h1v1h-1zM323 135h1v1h-1zM325 135h4v1h-4zM307 136h1v1h-1zM309 136h2v1h-2zM312 136h4v1h-4zM317 136h6v1h-6zM324 136h5v1h-5zM304 137h2v1h-2zM308 137h2v1h-2zM323 137h8v1h-8zM302 138h5v1h-5zM324 138h2v1h-2zM327 138h5v1h-5zM299 139h1v1h-1zM301 139h1v1h-1zM303 139h3v1h-3zM327 139h2v1h-2zM330 139h2v1h-2zM301 140h2v1h-2zM327 140h2v1h-2zM330 140h2v1h-2zM296 141h1v1h-1zM298 141h4v1h-4zM327 141h4v1h-4zM295 142h4v1h-4zM327 142h3v1h-3zM293 143h3v1h-3zM297 143h1v1h-1zM326 143h5v1h-5zM291 144h5v1h-5zM326 144h1v1h-1zM328 144h2v1h-2zM291 145h1v1h-1zM293 145h2v1h-2zM325 145h5v1h-5zM289 146h1v1h-1zM291 146h2v1h-2zM324 146h4v1h-4zM288 147h5v1h-5zM324 147h3v1h-3zM287 148h1v1h-1zM290 148h1v1h-1zM323 148h2v1h-2zM326 148h1v1h-1zM286 149h4v1h-4zM321 149h5v1h-5zM286 150h4v1h-4zM321 150h3v1h-3zM285 151h4v1h-4zM319 151h4v1h-4zM284 152h1v1h-1zM286 152h2v1h-2zM317 152h4v1h-4zM285 153h4v1h-4zM316 153h4v1h-4zM285 154h3v1h-3zM316 154h2v1h-2zM284 155h1v1h-1zM286 155h2v1h-2zM311 155h6v1h-6zM284 156h1v1h-1zM286 156h1v1h-1zM288 156h1v1h-1zM309 156h4v1h-4zM314 156h1v1h-1zM283 157h1v1h-1zM286 157h4v1h-4zM308 157h3v1h-3zM283 158h4v1h-4zM288 158h1v1h-1zM290 158h1v1h-1zM292 158h1v1h-1zM303 158h4v1h-4zM308 158h3v1h-3zM286 159h8v1h-8zM295 159h1v1h-1zM297 159h5v1h-5zM303 159h4v1h-4zM289 160h10v1h-10zM300 160h1v1h-1zM302 160h2v1h-2zM290 161h1v1h-1zM292 161h4v1h-4zM297 161h5v1h-5z"/><path fill="#2a88f4" d="M316 136h1v1h-1zM311 137h12v1h-12zM307 138h13v1h-13zM321 138h2v1h-2zM306 139h3v1h-3zM310 139h1v1h-1zM321 139h2v1h-2zM324 139h3v1h-3zM303 140h4v1h-4zM323 140h4v1h-4zM302 141h2v1h-2zM325 141h2v1h-2zM299 142h4v1h-4zM323 142h3v1h-3zM296 143h1v1h-1zM298 143h3v1h-3zM324 143h2v1h-2zM296 144h1v1h-1zM298 144h1v1h-1zM324 144h2v1h-2zM295 145h2v1h-2zM323 145h2v1h-2zM293 146h2v1h-2zM322 146h2v1h-2zM293 147h2v1h-2zM323 147h1v1h-1zM291 148h1v1h-1zM294 148h1v1h-1zM320 148h3v1h-3zM290 149h4v1h-4zM319 149h2v1h-2zM290 150h3v1h-3zM318 150h2v1h-2zM289 151h3v1h-3zM316 151h3v1h-3zM288 152h4v1h-4zM314 152h1v1h-1zM316 152h1v1h-1zM289 153h1v1h-1zM291 153h1v1h-1zM312 153h3v1h-3zM288 154h3v1h-3zM310 154h5v1h-5zM288 155h4v1h-4zM308 155h3v1h-3zM289 156h1v1h-1zM291 156h3v1h-3zM295 156h1v1h-1zM305 156h2v1h-2zM308 156h1v1h-1zM290 157h1v1h-1zM292 157h8v1h-8zM301 157h6v1h-6zM291 158h1v1h-1zM293 158h10v1h-10zM296 159h1v1h-1z"/><path fill="#28c0f0" d="M320 138h1v1h-1zM309 139h1v1h-1zM311 139h10v1h-10zM307 140h4v1h-4zM312 140h2v1h-2zM315 140h2v1h-2zM319 140h4v1h-4zM304 141h4v1h-4zM321 141h4v1h-4zM303 142h2v1h-2zM322 142h1v1h-1zM301 143h2v1h-2zM322 143h2v1h-2zM299 144h2v1h-2zM321 144h1v1h-1zM323 144h1v1h-1zM297 145h2v1h-2zM320 145h3v1h-3zM296 146h2v1h-2zM320 146h2v1h-2zM295 147h2v1h-2zM319 147h2v1h-2zM293 148h1v1h-1zM295 148h1v1h-1zM318 148h2v1h-2zM294 149h1v1h-1zM316 149h3v1h-3zM293 150h2v1h-2zM315 150h3v1h-3zM292 151h2v1h-2zM313 151h3v1h-3zM292 152h1v1h-1zM312 152h2v1h-2zM292 153h1v1h-1zM310 153h2v1h-2zM291 154h4v1h-4zM296 154h1v1h-1zM306 154h4v1h-4zM292 155h5v1h-5zM298 155h1v1h-1zM303 155h5v1h-5zM294 156h1v1h-1zM296 156h9v1h-9zM300 157h1v1h-1z"/><path fill="#30eac0" d="M311 140h1v1h-1zM314 140h1v1h-1zM317 140h2v1h-2zM308 141h13v1h-13zM305 142h3v1h-3zM310 142h1v1h-1zM317 142h1v1h-1zM319 142h3v1h-3zM303 143h2v1h-2zM319 143h3v1h-3zM301 144h2v1h-2zM319 144h2v1h-2zM299 145h4v1h-4zM319 145h1v1h-1zM298 146h2v1h-2zM317 146h3v1h-3zM297 147h2v1h-2zM317 147h2v1h-2zM296 148h1v1h-1zM316 148h2v1h-2zM295 149h3v1h-3zM315 149h1v1h-1zM295 150h2v1h-2zM314 150h1v1h-1zM294 151h1v1h-1zM312 151h1v1h-1zM293 152h3v1h-3zM311 152h1v1h-1zM294 153h1v1h-1zM307 153h3v1h-3zM295 154h1v1h-1zM297 154h2v1h-2zM302 154h4v1h-4zM297 155h1v1h-1zM299 155h4v1h-4z"/><path fill="#40f070" d="M308 142h2v1h-2zM311 142h1v1h-1zM313 142h2v1h-2zM316 142h1v1h-1zM318 142h1v1h-1zM305 143h2v1h-2zM309 143h1v1h-1zM303 144h2v1h-2zM303 145h1v1h-1zM318 145h1v1h-1zM300 146h2v1h-2zM316 146h1v1h-1zM299 147h2v1h-2zM316 147h1v1h-1zM297 148h2v1h-2zM314 148h2v1h-2zM299 149h1v1h-1zM313 149h1v1h-1zM311 150h3v1h-3zM295 151h2v1h-2zM309 151h3v1h-3zM296 152h1v1h-1zM306 152h5v1h-5zM295 153h7v1h-7zM304 153h3v1h-3zM299 154h3v1h-3z"/><path fill="#48ee40" d="M312 142h1v1h-1zM315 142h1v1h-1zM307 143h2v1h-2zM310 143h9v1h-9zM305 144h6v1h-6zM312 144h7v1h-7zM304 145h6v1h-6zM314 145h4v1h-4zM302 146h4v1h-4zM307 146h1v1h-1zM315 146h1v1h-1zM301 147h4v1h-4zM313 147h3v1h-3zM299 148h3v1h-3zM303 148h1v1h-1zM312 148h2v1h-2zM298 149h1v1h-1zM300 149h1v1h-1zM308 149h1v1h-1zM310 149h3v1h-3zM314 149h1v1h-1zM297 150h4v1h-4zM308 150h3v1h-3zM297 151h2v1h-2zM300 151h9v1h-9zM297 152h9v1h-9zM302 153h2v1h-2z"/><path fill="#e0f030" d="M311 144h1v1h-1zM310 145h2v1h-2zM306 146h1v1h-1zM309 146h1v1h-1zM312 146h3v1h-3zM305 147h1v1h-1zM312 147h1v1h-1zM302 148h1v1h-1zM310 148h2v1h-2zM301 149h1v1h-1zM305 149h1v1h-1zM307 149h1v1h-1zM309 149h1v1h-1zM301 150h7v1h-7zM299 151h1v1h-1z"/><path fill="#ff9a30" d="M312 145h1v1h-1zM310 146h1v1h-1zM306 147h1v1h-1zM311 147h1v1h-1zM304 148h1v1h-1zM309 148h1v1h-1zM306 149h1v1h-1z"/><path fill="#e83020" d="M313 145h1v1h-1zM308 146h1v1h-1zM311 146h1v1h-1zM307 147h2v1h-2zM310 147h1v1h-1zM305 148h3v1h-3zM302 149h2v1h-2z"/><path d="M222 63H360.3V207" stroke="#555" stroke-width="1.2" fill="none"/><path d="M222 62.4V207H360.3" stroke="#111" stroke-width="1" fill="none"/><path d="M294.3 63V207M222 135.6H360.3" stroke="#111" stroke-width="1.3" fill="none"/><path d="M218 205.6H222M220 199.6H222M220 196.1H222M220 193.7H222M220 191.7H222M220 190.2H222M220 188.9H222M220 187.7H222M220 186.7H222M218 185.8H222M220 179.9H222M220 176.4H222M220 173.9H222M220 172.0H222M220 170.4H222M220 169.1H222M220 168.0H222M220 167.0H222M218 166.1H222M220 160.1H222M220 156.6H222M220 154.2H222M220 152.2H222M220 150.7H222M220 149.4H222M220 148.2H222M220 147.2H222M218 146.3H222M220 140.4H222M220 136.9H222M220 134.4H222M220 132.5H222M220 130.9H222M220 129.6H222M220 128.5H222M220 127.5H222M218 126.5H222M220 120.6H222M220 117.1H222M220 114.7H222M220 112.7H222M220 111.2H222M220 109.9H222M220 108.7H222M220 107.7H222M218 106.8H222M220 100.9H222M220 97.4H222M220 94.9H222M220 93.0H222M220 91.4H222M220 90.1H222M220 89.0H222M220 88.0H222M218 87.0H222M220 81.1H222M220 77.6H222M220 75.2H222M220 73.2H222M220 71.7H222M220 70.4H222M220 69.2H222M220 68.2H222M218 67.3H222M222.2 207V211M227.9 207V209M231.3 207V209M233.7 207V209M235.5 207V209M237.0 207V209M238.3 207V209M239.4 207V209M240.4 207V209M241.2 207V211M247.0 207V209M250.3 207V209M252.7 207V209M254.6 207V209M256.1 207V209M257.3 207V209M258.5 207V209M259.4 207V209M260.3 207V211M266.0 207V209M269.4 207V209M271.8 207V209M273.6 207V209M275.1 207V209M276.4 207V209M277.5 207V209M278.5 207V209M279.4 207V211M285.1 207V209M288.4 207V209M290.8 207V209M292.7 207V209M294.2 207V209M295.4 207V209M296.6 207V209M297.5 207V209M298.4 207V211M304.1 207V209M307.5 207V209M309.9 207V209M311.7 207V209M313.2 207V209M314.5 207V209M315.6 207V209M316.6 207V209M317.4 207V211M323.2 207V209M326.5 207V209M328.9 207V209M330.8 207V209M332.3 207V209M333.5 207V209M334.7 207V209M335.6 207V209M336.5 207V211M342.2 207V209M345.6 207V209M348.0 207V209M349.8 207V209M351.3 207V209M352.6 207V209M353.7 207V209M354.7 207V209M355.5 207V211" stroke="#111" stroke-width="0.9" fill="none"/><text x="213.6" y="207.9" font-size="5.4" text-anchor="end" fill="#222" textLength="6" lengthAdjust="spacingAndGlyphs">10</text><text x="213.8" y="204.8" font-size="4.2" fill="#222">0</text><text x="213.6" y="188.1" font-size="5.4" text-anchor="end" fill="#222" textLength="6" lengthAdjust="spacingAndGlyphs">10</text><text x="213.8" y="185.0" font-size="4.2" fill="#222">1</text><text x="213.6" y="168.4" font-size="5.4" text-anchor="end" fill="#222" textLength="6" lengthAdjust="spacingAndGlyphs">10</text><text x="213.8" y="165.2" font-size="4.2" fill="#222">2</text><text x="213.6" y="148.6" font-size="5.4" text-anchor="end" fill="#222" textLength="6" lengthAdjust="spacingAndGlyphs">10</text><text x="213.8" y="145.5" font-size="4.2" fill="#222">3</text><text x="213.6" y="128.8" font-size="5.4" text-anchor="end" fill="#222" textLength="6" lengthAdjust="spacingAndGlyphs">10</text><text x="213.8" y="125.8" font-size="4.2" fill="#222">4</text><text x="213.6" y="109.1" font-size="5.4" text-anchor="end" fill="#222" textLength="6" lengthAdjust="spacingAndGlyphs">10</text><text x="213.8" y="106.0" font-size="4.2" fill="#222">5</text><text x="213.6" y="89.3" font-size="5.4" text-anchor="end" fill="#222" textLength="6" lengthAdjust="spacingAndGlyphs">10</text><text x="213.8" y="86.2" font-size="4.2" fill="#222">6</text><text x="213.6" y="69.6" font-size="5.4" text-anchor="end" fill="#222" textLength="6" lengthAdjust="spacingAndGlyphs">10</text><text x="213.8" y="66.5" font-size="4.2" fill="#222">7</text><text x="224.5" y="219.2" font-size="5.4" fill="#222" textLength="5.6" lengthAdjust="spacingAndGlyphs">10</text><text x="230.4" y="215.6" font-size="4.2" fill="#222">0</text><text x="260.1" y="219.2" font-size="5.4" fill="#222" textLength="5.6" lengthAdjust="spacingAndGlyphs">10</text><text x="266.0" y="215.6" font-size="4.2" fill="#222">2</text><text x="298.6" y="219.2" font-size="5.4" fill="#222" textLength="5.6" lengthAdjust="spacingAndGlyphs">10</text><text x="304.5" y="215.6" font-size="4.2" fill="#222">4</text><text x="336.6" y="219.2" font-size="5.4" fill="#222" textLength="5.6" lengthAdjust="spacingAndGlyphs">10</text><text x="342.5" y="215.6" font-size="4.2" fill="#222">6</text><text x="224.2" y="74.2" font-size="6" font-weight="normal" text-anchor="start" fill="#1a1a1a" >Q1</text><text x="224.2" y="82.6" font-size="6" font-weight="normal" text-anchor="start" fill="#1a1a1a" >0.40</text><text x="349.4" y="73.9" font-size="6" font-weight="normal" text-anchor="end" fill="#1a1a1a" >Q2</text><text x="349.4" y="83" font-size="6" font-weight="normal" text-anchor="end" fill="#1a1a1a" >2.80</text><text x="224.2" y="192" font-size="6" font-weight="normal" text-anchor="start" fill="#1a1a1a" >Q4</text><text x="224.2" y="201.1" font-size="6" font-weight="normal" text-anchor="start" fill="#1a1a1a" >3.45</text><text x="349.2" y="192.3" font-size="6" font-weight="normal" text-anchor="end" fill="#1a1a1a" >Q3</text><text x="349.2" y="201.4" font-size="6" font-weight="normal" text-anchor="end" fill="#1a1a1a" >93.4</text><path d="M416.2 66V206.8" stroke="#1a1a1a" stroke-width="1.1" fill="none"/><path d="M416.2 206.8H700.5" stroke="#8a8a8a" stroke-width="1.8" fill="none"/><path d="M413.5 206.7H416.2M413.5 178.6H416.2M413.5 150.4H416.2M413.5 122.3H416.2M413.5 94.1H416.2M413.5 66.0H416.2" stroke="#333" stroke-width="1" fill="none"/><text x="412.6" y="209.6" font-size="8.8" font-weight="bold" text-anchor="end" fill="#1a1a1a" textLength="4.21" lengthAdjust="spacingAndGlyphs" >0</text><text x="412.6" y="181.46" font-size="8.8" font-weight="bold" text-anchor="end" fill="#1a1a1a" textLength="4.21" lengthAdjust="spacingAndGlyphs" >2</text><text x="412.6" y="153.32" font-size="8.8" font-weight="bold" text-anchor="end" fill="#1a1a1a" textLength="4.21" lengthAdjust="spacingAndGlyphs" >4</text><text x="412.6" y="125.17999999999999" font-size="8.8" font-weight="bold" text-anchor="end" fill="#1a1a1a" textLength="4.21" lengthAdjust="spacingAndGlyphs" >6</text><text x="412.6" y="97.03999999999999" font-size="8.8" font-weight="bold" text-anchor="end" fill="#1a1a1a" textLength="4.21" lengthAdjust="spacingAndGlyphs" >8</text><text x="412.6" y="68.9" font-size="8.8" font-weight="bold" text-anchor="end" fill="#1a1a1a" textLength="8.42" lengthAdjust="spacingAndGlyphs" >10</text><text x="481.5" y="216.1" font-size="8.8" font-weight="bold" text-anchor="middle" fill="#1a1a1a" textLength="4.21" lengthAdjust="spacingAndGlyphs" >0</text><text x="551.1" y="216.1" font-size="8.8" font-weight="bold" text-anchor="middle" fill="#1a1a1a" textLength="8.42" lengthAdjust="spacingAndGlyphs" >24</text><text x="620.7" y="216.1" font-size="8.8" font-weight="bold" text-anchor="middle" fill="#1a1a1a" textLength="8.42" lengthAdjust="spacingAndGlyphs" >48</text><text x="690.3000000000001" y="216.1" font-size="8.8" font-weight="bold" text-anchor="middle" fill="#1a1a1a" textLength="8.42" lengthAdjust="spacingAndGlyphs" >72</text><text x="534" y="239" font-size="12" font-weight="normal" text-anchor="start" fill="#222" textLength="47.5" lengthAdjust="spacingAndGlyphs" >Time hrs.</text><text x="398.7" y="202.2" font-size="12.5" font-weight="bold" text-anchor="start" fill="#111" textLength="133.4" lengthAdjust="spacingAndGlyphs" transform="rotate(-90 398.7 202.2)" >Normalized cell Index</text><polygon fill="#e01020" fill-opacity="1" points="415.5,204.7 417.0,204.1 418.5,203.5 420.0,203.0 421.5,202.5 423.0,202.1 424.5,201.7 426.0,201.4 427.5,201.1 429.0,200.8 430.5,200.6 431.9,200.4 433.4,200.3 434.9,200.2 436.3,200.0 437.8,199.9 439.2,199.9 440.7,199.8 442.1,199.7 443.5,199.6 445.0,199.5 446.4,199.5 447.8,199.4 449.2,199.3 450.6,199.1 452.0,199.0 453.4,198.8 454.7,198.7 456.1,198.4 457.5,198.2 458.9,197.9 460.2,197.6 461.6,197.2 462.9,196.8 464.3,196.4 465.6,195.9 467.0,195.3 468.4,194.7 469.8,194.1 471.3,193.5 472.8,192.9 474.3,192.3 475.8,191.8 477.4,191.4 479.0,191.0 480.7,190.9 482.2,190.8 483.7,190.8 485.1,190.8 486.5,190.8 487.8,190.7 489.0,190.5 490.2,190.3 491.4,189.9 492.7,189.4 494.0,188.8 495.3,188.0 496.7,187.2 498.0,186.3 499.4,185.4 500.8,184.4 502.3,183.5 503.7,182.7 505.1,181.8 506.5,181.0 507.9,180.2 509.3,179.4 510.6,178.6 512.0,177.8 513.4,176.9 514.8,176.0 516.2,175.1 517.6,174.1 519.0,173.2 520.4,172.2 521.8,171.3 523.2,170.3 524.5,169.3 525.9,168.1 527.3,166.9 528.8,165.7 530.4,164.5 532.0,163.5 533.6,162.6 535.2,161.7 536.7,161.0 538.3,160.4 539.9,159.9 541.5,159.4 543.1,159.1 544.7,158.8 546.3,158.7 547.9,158.6 549.5,158.5 550.9,158.6 552.4,158.6 553.8,158.6 555.2,158.6 556.6,158.7 558.1,158.7 559.5,158.7 561.0,158.7 562.4,158.7 563.8,158.8 565.3,158.8 566.7,158.9 568.2,158.9 569.6,159.0 571.0,159.0 572.5,159.1 573.9,159.2 575.4,159.2 576.8,159.3 578.2,159.4 579.7,159.5 581.1,159.6 582.5,159.6 584.0,159.7 585.4,159.8 586.8,159.9 588.3,160.0 589.7,160.1 591.1,160.1 592.5,160.2 594.0,160.3 595.4,160.4 596.8,160.5 598.3,160.6 599.7,160.7 601.1,160.8 602.6,160.9 604.0,160.9 605.4,161.0 606.9,161.1 608.3,161.2 609.7,161.3 611.1,161.4 612.6,161.5 614.0,161.6 615.4,161.7 616.9,161.8 618.3,161.9 619.7,162.0 621.2,162.1 622.6,162.2 624.0,162.3 625.5,162.4 626.9,162.5 628.3,162.6 629.7,162.6 631.2,162.7 632.6,162.8 634.0,163.0 635.5,163.1 636.9,163.2 638.3,163.3 639.8,163.4 641.2,163.5 642.6,163.6 644.1,163.7 645.5,163.8 646.9,163.9 648.4,164.1 649.8,164.2 651.2,164.3 652.7,164.4 654.1,164.6 655.5,164.7 657.0,164.8 658.4,164.9 659.8,165.1 661.3,165.2 662.7,165.3 664.1,165.5 665.6,165.6 667.0,165.7 668.4,165.9 669.9,166.0 671.3,166.2 672.7,166.3 674.2,166.4 675.6,166.6 677.0,166.7 678.4,166.8 679.9,167.0 681.3,167.1 682.7,167.2 684.1,167.4 685.6,167.5 687.0,167.6 688.4,167.7 689.8,167.9 691.3,168.0 692.7,168.1 694.1,168.2 695.5,168.3 696.9,168.4 698.4,168.5 699.8,168.6 701.2,168.7 700.8,175.3 699.3,175.2 697.9,175.1 696.5,175.0 695.0,174.9 693.6,174.8 692.2,174.7 690.7,174.6 689.3,174.4 687.9,174.3 686.4,174.2 685.0,174.1 683.5,173.9 682.1,173.8 680.7,173.7 679.2,173.5 677.8,173.4 676.4,173.3 675.0,173.1 673.5,173.0 672.1,172.9 670.7,172.7 669.2,172.6 667.8,172.5 666.4,172.3 664.9,172.2 663.5,172.0 662.1,171.9 660.7,171.8 659.2,171.6 657.8,171.5 656.4,171.4 655.0,171.3 653.5,171.1 652.1,171.0 650.7,170.9 649.3,170.8 647.8,170.6 646.4,170.5 645.0,170.4 643.6,170.3 642.1,170.2 640.7,170.1 639.3,170.0 637.8,169.8 636.4,169.7 635.0,169.6 633.6,169.5 632.1,169.4 630.7,169.3 629.3,169.2 627.9,169.1 626.4,169.0 625.0,168.9 623.6,168.8 622.2,168.8 620.7,168.7 619.3,168.6 617.9,168.5 616.4,168.4 615.0,168.3 613.6,168.2 612.1,168.1 610.7,168.0 609.3,167.9 607.9,167.8 606.4,167.7 605.0,167.6 603.6,167.5 602.1,167.4 600.7,167.4 599.3,167.3 597.9,167.2 596.4,167.1 595.0,167.0 593.6,166.9 592.1,166.8 590.7,166.7 589.3,166.6 587.9,166.6 586.4,166.5 585.0,166.4 583.6,166.3 582.2,166.2 580.7,166.1 579.3,166.1 577.9,166.0 576.4,165.9 575.0,165.8 573.6,165.8 572.2,165.7 570.8,165.6 569.3,165.6 567.9,165.5 566.5,165.5 565.1,165.4 563.7,165.4 562.2,165.3 560.8,165.3 559.4,165.3 558.0,165.3 556.6,165.3 555.1,165.2 553.7,165.2 552.2,165.2 550.8,165.2 549.5,165.1 548.1,165.2 546.9,165.2 545.6,165.4 544.4,165.6 543.1,165.8 541.8,166.2 540.6,166.6 539.3,167.1 538.0,167.7 536.8,168.3 535.5,169.1 534.2,169.9 532.9,170.9 531.5,172.0 530.1,173.2 528.7,174.4 527.1,175.6 525.6,176.7 524.1,177.7 522.7,178.7 521.3,179.6 519.8,180.6 518.4,181.5 516.9,182.5 515.4,183.4 513.9,184.3 512.5,185.1 511.0,185.8 509.5,186.6 508.0,187.3 506.6,187.9 505.1,188.7 503.7,189.4 502.3,190.2 500.8,191.0 499.3,191.8 497.8,192.5 496.2,193.3 494.7,194.0 493.1,194.6 491.5,195.1 489.8,195.5 488.2,195.7 486.6,195.8 485.1,195.8 483.7,195.8 482.3,195.8 481.0,195.9 479.8,196.0 478.5,196.2 477.3,196.6 476.0,197.0 474.6,197.5 473.2,198.1 471.8,198.7 470.4,199.3 468.9,199.9 467.5,200.5 465.9,201.1 464.4,201.6 462.9,202.0 461.4,202.4 459.9,202.8 458.4,203.1 456.9,203.4 455.5,203.6 454.0,203.8 452.5,204.0 451.0,204.1 449.6,204.2 448.1,204.4 446.7,204.5 445.2,204.5 443.8,204.6 442.4,204.7 440.9,204.8 439.5,204.8 438.1,204.9 436.7,205.0 435.3,205.1 433.9,205.3 432.5,205.4 431.1,205.6 429.7,205.8 428.4,206.0 427.0,206.3 425.6,206.6 424.3,206.9 422.9,207.3 421.6,207.7 420.2,208.2 418.9,208.7 417.5,209.3"/><polygon fill="#f050c8" fill-opacity="1" points="415.5,204.7 417.0,204.1 418.5,203.5 420.0,203.0 421.5,202.5 423.0,202.1 424.5,201.7 426.0,201.4 427.5,201.1 429.0,200.8 430.5,200.6 431.9,200.4 433.4,200.3 434.9,200.2 436.3,200.0 437.8,199.9 439.2,199.9 440.7,199.8 442.1,199.7 443.5,199.6 445.0,199.5 446.4,199.5 447.8,199.4 449.2,199.3 450.6,199.1 452.0,199.0 453.4,198.8 454.7,198.7 456.1,198.4 457.5,198.2 458.9,197.9 460.2,197.6 461.6,197.2 462.9,196.8 464.3,196.4 465.6,195.9 467.0,195.3 468.4,194.7 469.8,194.1 471.3,193.5 472.8,192.9 474.3,192.3 475.8,191.8 477.4,191.4 479.0,191.0 480.6,190.9 482.2,190.8 483.7,190.8 485.1,190.8 486.4,190.7 487.7,190.6 489.0,190.5 490.1,190.2 491.4,189.8 492.6,189.2 494.0,188.6 495.3,187.7 496.6,186.8 497.9,185.9 499.3,184.9 500.7,183.9 502.2,183.0 503.6,182.0 505.0,181.1 506.4,180.3 507.7,179.4 509.0,178.5 510.3,177.5 511.6,176.5 512.9,175.5 514.3,174.4 515.6,173.3 517.0,172.1 518.4,170.9 519.8,169.6 521.2,168.3 522.6,166.9 524.1,165.5 525.6,164.2 527.1,162.9 528.6,161.7 530.2,160.6 531.8,159.5 533.4,158.6 535.0,157.8 536.7,157.0 538.3,156.4 540.0,156.0 541.6,155.6 543.2,155.4 544.8,155.2 546.3,155.1 547.8,155.0 549.3,154.9 550.8,154.8 552.2,154.8 553.7,154.8 555.2,154.8 556.6,154.8 558.1,154.8 559.5,154.8 561.0,154.8 562.4,154.8 563.8,154.9 565.3,154.9 566.7,155.0 568.2,155.0 569.6,155.1 571.1,155.1 572.5,155.2 573.9,155.3 575.4,155.3 576.8,155.4 578.3,155.5 579.7,155.6 581.1,155.7 582.6,155.8 584.0,155.9 585.5,155.9 586.9,156.1 588.3,156.2 589.8,156.3 591.2,156.4 592.6,156.5 594.1,156.6 595.5,156.7 596.9,156.8 598.4,156.9 599.8,157.1 601.2,157.2 602.7,157.3 604.1,157.4 605.5,157.6 607.0,157.7 608.4,157.8 609.8,158.0 611.3,158.1 612.7,158.2 614.1,158.4 615.6,158.5 617.0,158.6 618.4,158.7 619.8,158.9 621.3,159.0 622.7,159.1 624.1,159.2 625.5,159.4 627.0,159.5 628.4,159.6 629.8,159.7 631.3,159.9 632.7,160.0 634.1,160.1 635.5,160.2 637.0,160.3 638.4,160.5 639.8,160.6 641.3,160.7 642.7,160.8 644.1,160.9 645.5,161.0 647.0,161.2 648.4,161.3 649.8,161.4 651.3,161.5 652.7,161.6 654.1,161.8 655.6,161.9 657.0,162.0 658.4,162.1 659.9,162.3 661.3,162.4 662.7,162.5 664.2,162.7 665.6,162.8 667.0,162.9 668.5,163.1 669.9,163.2 671.3,163.3 672.8,163.5 674.2,163.6 675.6,163.8 677.1,163.9 678.5,164.0 679.9,164.2 681.3,164.3 682.8,164.4 684.2,164.6 685.6,164.7 687.0,164.9 688.5,165.0 689.9,165.1 691.3,165.3 692.8,165.4 694.2,165.5 695.6,165.6 697.0,165.8 698.5,165.9 699.9,166.0 701.3,166.1 700.7,173.5 699.3,173.4 697.8,173.3 696.4,173.1 695.0,173.0 693.5,172.9 692.1,172.8 690.7,172.6 689.2,172.5 687.8,172.4 686.4,172.2 684.9,172.1 683.5,172.0 682.1,171.8 680.6,171.7 679.2,171.5 677.8,171.4 676.3,171.3 674.9,171.1 673.5,171.0 672.1,170.8 670.6,170.7 669.2,170.6 667.8,170.4 666.3,170.3 664.9,170.2 663.5,170.0 662.1,169.9 660.6,169.8 659.2,169.6 657.8,169.5 656.4,169.4 654.9,169.3 653.5,169.1 652.1,169.0 650.7,168.9 649.2,168.8 647.8,168.7 646.4,168.5 644.9,168.4 643.5,168.3 642.1,168.2 640.7,168.1 639.2,167.9 637.8,167.8 636.4,167.7 634.9,167.6 633.5,167.5 632.1,167.4 630.6,167.2 629.2,167.1 627.8,167.0 626.3,166.9 624.9,166.7 623.5,166.6 622.0,166.5 620.6,166.4 619.2,166.2 617.7,166.1 616.3,166.0 614.9,165.9 613.5,165.7 612.0,165.6 610.6,165.5 609.2,165.3 607.7,165.2 606.3,165.1 604.9,164.9 603.5,164.8 602.0,164.7 600.6,164.6 599.2,164.4 597.8,164.3 596.3,164.2 594.9,164.1 593.5,164.0 592.1,163.9 590.6,163.7 589.2,163.6 587.8,163.5 586.4,163.4 584.9,163.3 583.5,163.2 582.1,163.1 580.7,163.0 579.3,163.0 577.8,162.9 576.4,162.8 575.0,162.7 573.6,162.6 572.2,162.6 570.7,162.5 569.3,162.5 567.9,162.4 566.5,162.4 565.1,162.3 563.7,162.3 562.2,162.2 560.8,162.2 559.4,162.2 558.0,162.2 556.6,162.2 555.2,162.2 553.8,162.2 552.4,162.2 551.0,162.2 549.6,162.3 548.2,162.4 546.9,162.4 545.5,162.6 544.2,162.7 543.0,162.9 541.8,163.2 540.6,163.5 539.4,163.9 538.2,164.4 536.9,165.1 535.7,165.8 534.4,166.6 533.1,167.6 531.8,168.6 530.4,169.8 529.1,171.0 527.7,172.3 526.3,173.6 524.8,175.0 523.4,176.4 521.9,177.7 520.4,179.0 518.9,180.2 517.4,181.4 515.8,182.4 514.2,183.4 512.7,184.3 511.1,185.2 509.6,185.9 508.2,186.7 506.7,187.4 505.3,188.2 503.8,188.9 502.4,189.7 500.9,190.6 499.4,191.4 497.9,192.2 496.3,193.0 494.8,193.7 493.2,194.4 491.5,195.0 489.9,195.4 488.2,195.6 486.7,195.7 485.1,195.8 483.7,195.8 482.3,195.8 481.0,195.8 479.8,196.0 478.5,196.2 477.3,196.6 476.0,197.0 474.6,197.5 473.2,198.1 471.8,198.7 470.4,199.3 468.9,199.9 467.4,200.5 465.9,201.1 464.4,201.6 462.9,202.0 461.4,202.4 459.9,202.8 458.4,203.1 456.9,203.4 455.5,203.6 454.0,203.8 452.5,204.0 451.0,204.1 449.6,204.2 448.1,204.4 446.7,204.5 445.2,204.5 443.8,204.6 442.4,204.7 440.9,204.8 439.5,204.8 438.1,204.9 436.7,205.0 435.3,205.1 433.9,205.3 432.5,205.4 431.1,205.6 429.7,205.8 428.4,206.0 427.0,206.3 425.6,206.6 424.3,206.9 422.9,207.3 421.6,207.7 420.2,208.2 418.9,208.7 417.5,209.3"/><polygon fill="#46e6bc" fill-opacity="1" points="415.2,204.0 416.7,203.3 418.2,202.7 419.7,202.2 421.3,201.7 422.8,201.3 424.3,200.9 425.8,200.6 427.3,200.3 428.8,200.0 430.3,199.8 431.8,199.6 433.3,199.4 434.8,199.2 436.2,199.1 437.7,198.9 439.1,198.8 440.6,198.7 442.0,198.6 443.4,198.5 444.9,198.4 446.3,198.3 447.7,198.2 449.1,198.1 450.5,198.0 451.9,197.8 453.2,197.6 454.6,197.4 456.0,197.2 457.3,197.0 458.7,196.7 460.0,196.4 461.4,196.0 462.7,195.6 464.0,195.2 465.4,194.7 466.7,194.2 468.1,193.6 469.5,193.0 471.0,192.4 472.5,191.8 474.0,191.2 475.5,190.7 477.1,190.2 478.7,189.8 480.4,190.0 481.9,189.8 483.4,189.6 484.8,189.5 486.2,189.3 487.5,189.1 488.7,188.8 489.9,188.5 491.2,188.0 492.5,187.4 493.8,186.8 495.2,186.0 496.6,185.2 498.0,184.4 499.4,183.5 500.8,182.6 502.3,181.8 503.8,180.9 505.2,180.1 506.5,179.3 507.9,178.4 509.2,177.5 510.5,176.5 511.8,175.3 513.1,174.0 514.5,172.5 515.9,170.9 517.3,169.3 518.8,167.7 520.2,166.0 521.7,164.5 523.1,162.9 524.6,161.4 526.1,160.0 527.6,158.6 529.1,157.4 530.5,156.1 532.0,155.0 533.5,153.9 535.0,152.8 536.5,151.8 538.1,150.9 539.7,150.0 541.3,149.3 542.9,148.8 544.5,148.3 546.1,148.0 547.7,147.7 549.2,147.5 550.7,147.4 552.3,147.4 553.8,147.4 555.2,147.4 556.7,147.4 558.2,147.5 559.6,147.5 561.0,147.6 562.5,147.7 563.9,147.8 565.3,147.9 566.8,147.9 568.2,148.0 569.6,148.1 571.0,148.1 572.4,148.2 573.8,148.2 575.2,148.2 576.6,148.2 578.0,148.1 579.4,148.1 580.8,148.0 582.2,148.0 583.6,147.9 585.1,147.8 586.5,147.8 588.0,147.7 589.5,147.7 590.9,147.7 592.4,147.7 593.9,147.8 595.4,147.9 596.8,147.9 598.3,148.0 599.7,148.2 601.2,148.3 602.6,148.4 604.1,148.6 605.5,148.8 607.0,148.9 608.4,149.1 609.9,149.3 611.3,149.5 612.7,149.6 614.2,149.8 615.6,150.0 617.0,150.2 618.4,150.4 619.9,150.6 621.3,150.7 622.7,150.9 624.1,151.1 625.6,151.2 627.0,151.4 628.4,151.6 629.8,151.7 631.2,151.9 632.7,152.0 634.1,152.2 635.5,152.3 637.0,152.5 638.4,152.6 639.8,152.8 641.2,152.9 642.7,153.1 644.1,153.2 645.5,153.3 646.9,153.5 648.4,153.6 649.8,153.8 651.2,153.9 652.7,154.0 654.1,154.2 655.5,154.3 657.0,154.5 658.4,154.6 659.8,154.8 661.3,154.9 662.7,155.1 664.1,155.2 665.6,155.4 667.0,155.5 668.4,155.7 669.9,155.8 671.3,156.0 672.7,156.2 674.1,156.3 675.6,156.5 677.0,156.6 678.4,156.8 679.9,157.0 681.3,157.1 682.7,157.3 684.2,157.5 685.6,157.6 687.0,157.8 688.4,157.9 689.9,158.1 691.3,158.2 692.7,158.4 694.2,158.6 695.6,158.7 697.0,158.9 698.4,159.0 699.9,159.2 701.3,159.3 700.7,164.9 699.3,164.7 697.8,164.6 696.4,164.4 695.0,164.3 693.5,164.1 692.1,164.0 690.7,163.8 689.3,163.7 687.8,163.5 686.4,163.3 685.0,163.2 683.5,163.0 682.1,162.9 680.7,162.7 679.2,162.5 677.8,162.4 676.4,162.2 675.0,162.0 673.5,161.9 672.1,161.7 670.7,161.6 669.2,161.4 667.8,161.3 666.4,161.1 665.0,160.9 663.5,160.8 662.1,160.6 660.7,160.5 659.3,160.3 657.8,160.2 656.4,160.0 655.0,159.9 653.5,159.8 652.1,159.6 650.7,159.5 649.3,159.3 647.8,159.2 646.4,159.0 645.0,158.9 643.5,158.8 642.1,158.6 640.7,158.5 639.2,158.3 637.8,158.2 636.4,158.0 634.9,157.9 633.5,157.8 632.1,157.6 630.6,157.4 629.2,157.3 627.8,157.1 626.3,157.0 624.9,156.8 623.5,156.6 622.0,156.5 620.6,156.3 619.2,156.1 617.7,155.9 616.3,155.7 614.9,155.6 613.4,155.4 612.0,155.2 610.6,155.0 609.2,154.8 607.7,154.7 606.3,154.5 604.9,154.3 603.5,154.2 602.1,154.0 600.7,153.9 599.3,153.7 597.8,153.6 596.4,153.5 595.1,153.4 593.7,153.4 592.3,153.3 590.9,153.3 589.5,153.3 588.1,153.3 586.7,153.4 585.3,153.4 583.9,153.5 582.5,153.5 581.0,153.6 579.6,153.7 578.1,153.7 576.7,153.8 575.2,153.8 573.7,153.8 572.3,153.8 570.8,153.7 569.4,153.7 567.9,153.6 566.5,153.5 565.0,153.5 563.6,153.4 562.2,153.3 560.7,153.2 559.3,153.1 557.9,153.1 556.5,153.0 555.1,153.0 553.7,153.0 552.4,153.0 551.0,153.0 549.7,153.1 548.4,153.3 547.1,153.5 545.8,153.8 544.6,154.1 543.3,154.5 542.1,155.1 540.8,155.7 539.5,156.5 538.2,157.4 536.8,158.4 535.4,159.4 534.1,160.5 532.7,161.6 531.3,162.8 529.9,164.1 528.5,165.4 527.2,166.8 525.8,168.3 524.4,169.8 523.0,171.4 521.5,173.0 520.1,174.6 518.6,176.3 517.2,177.9 515.6,179.4 514.1,180.8 512.5,182.0 511.0,183.1 509.5,184.1 508.0,185.0 506.5,185.8 505.1,186.6 503.7,187.4 502.3,188.3 500.9,189.1 499.4,190.0 497.9,190.9 496.4,191.7 494.9,192.5 493.3,193.2 491.7,193.8 490.1,194.3 488.5,194.6 486.9,194.9 485.4,195.0 484.0,195.2 482.6,195.3 481.3,195.5 480.1,196.2 478.9,196.6 477.6,196.9 476.3,197.4 474.9,197.9 473.5,198.5 472.1,199.1 470.7,199.7 469.2,200.3 467.7,200.9 466.2,201.4 464.7,201.9 463.1,202.4 461.6,202.8 460.1,203.1 458.6,203.4 457.1,203.7 455.6,204.0 454.1,204.2 452.6,204.4 451.2,204.5 449.7,204.7 448.2,204.8 446.8,204.9 445.3,205.0 443.9,205.1 442.5,205.2 441.0,205.3 439.6,205.4 438.2,205.5 436.8,205.6 435.4,205.8 434.0,205.9 432.7,206.1 431.3,206.3 429.9,206.5 428.6,206.7 427.2,207.0 425.8,207.3 424.5,207.7 423.2,208.0 421.8,208.5 420.5,208.9 419.2,209.4 417.8,210.0"/><polygon fill="#10ee10" fill-opacity="1" points="415.2,204.0 416.8,203.3 418.3,202.8 419.8,202.3 421.3,201.8 422.8,201.4 424.3,201.0 425.8,200.7 427.3,200.4 428.8,200.1 430.3,199.8 431.7,199.6 433.2,199.4 434.7,199.2 436.1,199.0 437.6,198.9 439.1,198.7 440.5,198.6 441.9,198.5 443.4,198.3 444.8,198.2 446.2,198.1 447.6,197.9 449.0,197.8 450.4,197.6 451.8,197.5 453.2,197.3 454.6,197.1 456.0,196.8 457.3,196.6 458.7,196.3 460.1,196.0 461.4,195.7 462.8,195.3 464.1,194.9 465.5,194.5 466.8,194.0 468.2,193.5 469.6,193.0 471.0,192.4 472.4,191.8 473.9,191.2 475.3,190.7 476.8,190.1 478.3,189.5 479.9,189.4 481.3,188.9 482.7,188.4 484.1,187.9 485.5,187.4 486.8,186.9 488.2,186.3 489.5,185.6 490.8,184.9 492.2,184.0 493.5,183.1 494.9,182.2 496.4,181.3 497.8,180.3 499.2,179.3 500.7,178.3 502.2,177.4 503.6,176.5 505.0,175.6 506.4,174.8 507.8,173.9 509.1,172.9 510.4,171.8 511.7,170.6 513.0,169.3 514.4,167.8 515.8,166.2 517.2,164.6 518.7,162.9 520.1,161.2 521.5,159.6 523.0,158.0 524.4,156.3 525.9,154.7 527.3,153.1 528.8,151.6 530.3,150.1 531.8,148.7 533.4,147.4 535.0,146.2 536.6,145.2 538.3,144.3 539.9,143.7 541.6,143.2 543.2,142.8 544.8,142.6 546.4,142.4 547.9,142.3 549.4,142.3 550.9,142.3 552.3,142.3 553.8,142.3 555.2,142.4 556.7,142.4 558.1,142.4 559.6,142.5 561.0,142.5 562.4,142.6 563.9,142.6 565.3,142.7 566.7,142.7 568.1,142.8 569.5,142.8 570.9,142.8 572.3,142.8 573.7,142.7 575.1,142.7 576.4,142.6 577.8,142.5 579.3,142.4 580.7,142.3 582.1,142.2 583.6,142.1 585.0,142.0 586.5,141.9 588.0,141.9 589.5,141.8 590.9,141.8 592.4,141.9 593.9,141.9 595.4,142.0 596.9,142.1 598.3,142.2 599.8,142.4 601.3,142.5 602.7,142.7 604.2,142.9 605.7,143.2 607.1,143.4 608.6,143.7 610.0,143.9 611.5,144.2 612.9,144.5 614.4,144.8 615.8,145.1 617.2,145.3 618.6,145.6 620.0,145.9 621.4,146.1 622.8,146.3 624.2,146.5 625.6,146.7 627.0,146.9 628.4,147.1 629.9,147.3 631.3,147.4 632.7,147.6 634.1,147.8 635.6,147.9 637.0,148.1 638.5,148.3 639.9,148.5 641.3,148.7 642.7,148.8 644.2,149.0 645.6,149.2 647.0,149.3 648.4,149.5 649.8,149.7 651.3,149.8 652.7,150.0 654.1,150.1 655.5,150.2 656.9,150.4 658.4,150.5 659.8,150.6 661.2,150.8 662.7,150.9 664.1,151.0 665.5,151.1 667.0,151.3 668.4,151.4 669.8,151.5 671.2,151.7 672.7,151.8 674.1,151.9 675.5,152.1 677.0,152.2 678.4,152.3 679.8,152.5 681.3,152.6 682.7,152.7 684.1,152.9 685.5,153.0 687.0,153.1 688.4,153.3 689.8,153.4 691.3,153.5 692.7,153.7 694.1,153.8 695.5,153.9 697.0,154.1 698.4,154.2 699.8,154.3 701.2,154.4 700.8,160.2 699.3,160.1 697.9,160.0 696.5,159.8 695.0,159.7 693.6,159.6 692.2,159.4 690.7,159.3 689.3,159.2 687.9,159.1 686.4,158.9 685.0,158.8 683.6,158.7 682.1,158.5 680.7,158.4 679.3,158.2 677.9,158.1 676.4,158.0 675.0,157.8 673.6,157.7 672.1,157.6 670.7,157.4 669.3,157.3 667.9,157.2 666.4,157.0 665.0,156.9 663.6,156.8 662.1,156.7 660.7,156.5 659.3,156.4 657.9,156.3 656.4,156.1 655.0,156.0 653.5,155.9 652.1,155.7 650.7,155.6 649.2,155.4 647.8,155.3 646.3,155.1 644.9,154.9 643.5,154.8 642.0,154.6 640.6,154.4 639.2,154.2 637.7,154.1 636.3,153.9 634.9,153.7 633.5,153.5 632.0,153.4 630.6,153.2 629.2,153.0 627.7,152.8 626.3,152.7 624.8,152.5 623.4,152.3 621.9,152.1 620.5,151.8 619.0,151.6 617.6,151.3 616.1,151.0 614.7,150.8 613.2,150.5 611.8,150.2 610.4,149.9 609.0,149.6 607.6,149.4 606.1,149.1 604.7,148.9 603.4,148.7 602.0,148.5 600.6,148.3 599.2,148.1 597.8,148.0 596.4,147.9 595.0,147.8 593.7,147.7 592.3,147.7 590.9,147.6 589.5,147.6 588.1,147.7 586.8,147.7 585.4,147.8 584.0,147.9 582.6,148.0 581.1,148.1 579.7,148.2 578.3,148.3 576.8,148.4 575.3,148.5 573.8,148.5 572.4,148.6 570.9,148.6 569.4,148.6 568.0,148.6 566.5,148.5 565.1,148.5 563.7,148.4 562.2,148.4 560.8,148.3 559.4,148.3 557.9,148.2 556.5,148.2 555.1,148.2 553.7,148.1 552.3,148.1 550.9,148.1 549.5,148.1 548.2,148.1 546.8,148.2 545.5,148.4 544.3,148.5 543.0,148.8 541.8,149.2 540.6,149.6 539.5,150.2 538.2,151.0 536.9,151.9 535.6,153.0 534.3,154.2 533.0,155.6 531.6,157.1 530.2,158.6 528.8,160.2 527.3,161.8 525.9,163.4 524.5,165.1 523.1,166.7 521.6,168.3 520.2,170.0 518.7,171.7 517.2,173.3 515.7,174.8 514.2,176.2 512.6,177.5 511.1,178.6 509.6,179.6 508.1,180.6 506.6,181.5 505.2,182.3 503.9,183.2 502.5,184.1 501.1,185.1 499.6,186.0 498.2,187.0 496.7,188.0 495.2,189.0 493.7,189.9 492.2,190.7 490.7,191.5 489.1,192.2 487.6,192.8 486.1,193.4 484.6,193.9 483.2,194.4 481.8,194.9 480.5,195.7 479.2,196.3 477.8,196.8 476.4,197.4 474.9,197.9 473.5,198.5 472.0,199.1 470.6,199.7 469.1,200.2 467.6,200.7 466.1,201.2 464.6,201.7 463.1,202.1 461.6,202.5 460.1,202.8 458.6,203.1 457.1,203.4 455.6,203.6 454.1,203.8 452.7,204.0 451.2,204.2 449.7,204.4 448.3,204.5 446.8,204.6 445.4,204.8 444.0,204.9 442.5,205.0 441.1,205.2 439.7,205.3 438.3,205.5 436.9,205.6 435.5,205.8 434.1,205.9 432.7,206.1 431.3,206.4 429.9,206.6 428.6,206.8 427.2,207.1 425.9,207.4 424.5,207.8 423.1,208.2 421.8,208.6 420.4,209.0 419.1,209.5 417.8,210.0"/><polygon fill="#0a0af0" fill-opacity="1" points="414.9,204.5 416.5,203.7 418.1,202.9 419.7,202.3 421.3,201.9 422.9,201.5 424.4,201.1 425.9,200.9 427.4,200.6 428.9,200.4 430.3,200.3 431.8,200.1 433.2,199.9 434.6,199.8 436.1,199.7 437.5,199.5 438.9,199.4 440.3,199.2 441.7,199.1 443.1,198.9 444.5,198.8 445.9,198.6 447.3,198.4 448.7,198.2 450.1,198.0 451.5,197.7 452.9,197.5 454.3,197.3 455.7,197.0 457.1,196.8 458.5,196.6 459.9,196.3 461.3,196.0 462.7,195.8 464.1,195.5 465.4,195.2 466.8,194.8 468.1,194.5 469.5,194.1 470.8,193.6 472.2,193.2 473.5,192.7 474.8,192.1 476.1,191.5 477.4,190.9 478.9,190.1 481.8,189.3 484.9,190.2 486.3,191.0 486.2,191.1 486.2,191.0 487.1,190.5 488.5,189.6 490.0,188.6 491.5,187.7 493.0,186.9 494.5,186.1 495.9,185.3 497.4,184.6 498.8,184.0 500.3,183.3 501.7,182.6 503.1,182.0 504.4,181.3 505.8,180.6 507.1,179.9 508.5,179.2 509.8,178.4 511.1,177.6 512.4,176.7 513.7,175.6 514.9,174.4 516.2,173.2 517.4,171.9 518.7,170.6 520.0,169.2 521.2,167.7 522.5,166.2 523.7,164.6 524.9,163.0 526.1,161.3 527.4,159.5 528.7,157.5 530.0,155.5 531.3,153.5 532.7,151.5 534.2,149.6 535.6,147.7 537.1,146.1 538.7,144.6 540.2,143.1 541.7,141.8 543.2,140.5 544.6,139.3 546.0,138.1 547.4,136.9 548.9,135.7 550.3,134.6 551.8,133.4 553.3,132.2 554.7,131.1 556.2,130.0 557.6,128.9 559.0,127.8 560.5,126.6 561.9,125.5 563.4,124.4 564.8,123.3 566.3,122.2 567.8,121.1 569.3,120.1 570.8,119.1 572.4,118.1 573.9,117.1 575.4,116.2 576.9,115.3 578.4,114.5 579.8,113.7 581.3,112.9 582.8,112.1 584.2,111.4 585.7,110.7 587.1,109.9 588.5,109.2 589.9,108.5 591.3,107.8 592.8,107.1 594.2,106.4 595.6,105.7 597.1,105.0 598.5,104.3 600.0,103.6 601.4,102.9 602.9,102.3 604.3,101.7 605.8,101.0 607.2,100.4 608.6,99.9 610.1,99.3 611.5,98.7 612.9,98.1 614.3,97.6 615.8,97.0 617.2,96.5 618.7,96.0 620.1,95.4 621.6,94.9 623.1,94.4 624.6,93.9 626.1,93.5 627.7,93.0 629.2,92.6 630.7,92.3 632.2,91.9 633.7,91.6 635.1,91.2 636.6,90.9 638.0,90.6 639.5,90.3 640.9,90.0 642.3,89.7 643.8,89.4 645.2,89.1 646.7,88.8 648.1,88.5 649.5,88.3 651.0,88.0 652.4,87.7 653.9,87.5 655.3,87.2 656.8,87.0 658.2,86.7 659.7,86.5 661.1,86.3 662.6,86.1 664.0,85.9 665.5,85.7 667.0,85.5 668.4,85.3 669.9,85.1 671.3,85.0 672.7,84.8 674.2,84.7 675.6,84.5 677.0,84.4 678.5,84.2 679.9,84.1 681.3,84.0 682.8,83.8 684.2,83.7 685.6,83.6 687.1,83.5 688.5,83.4 690.0,83.2 691.5,83.1 692.9,83.1 694.4,83.0 695.9,82.9 697.4,82.9 698.9,82.8 699.1,98.0 697.8,98.0 696.4,98.0 695.1,98.1 693.7,98.1 692.3,98.2 691.0,98.3 689.6,98.4 688.2,98.5 686.8,98.6 685.4,98.7 684.0,98.8 682.6,98.9 681.2,99.0 679.8,99.1 678.4,99.2 677.0,99.3 675.6,99.5 674.2,99.6 672.8,99.7 671.4,99.8 670.0,100.0 668.6,100.1 667.2,100.2 665.8,100.4 664.4,100.5 663.0,100.7 661.7,100.8 660.3,101.0 658.9,101.2 657.5,101.3 656.1,101.5 654.7,101.7 653.3,101.9 651.9,102.1 650.5,102.4 649.1,102.6 647.7,102.8 646.3,103.0 644.9,103.3 643.5,103.5 642.1,103.8 640.7,104.0 639.3,104.3 638.0,104.6 636.6,104.9 635.2,105.2 633.9,105.5 632.5,105.8 631.2,106.1 629.9,106.5 628.6,106.9 627.3,107.3 625.9,107.7 624.6,108.2 623.2,108.7 621.8,109.1 620.4,109.7 619.0,110.2 617.6,110.7 616.2,111.2 614.7,111.7 613.3,112.2 611.9,112.7 610.5,113.2 609.1,113.7 607.7,114.2 606.3,114.7 605.0,115.3 603.6,115.8 602.2,116.4 600.8,117.0 599.4,117.6 598.0,118.2 596.6,118.8 595.2,119.5 593.7,120.1 592.3,120.7 590.9,121.4 589.5,122.1 588.1,122.7 586.7,123.4 585.3,124.1 584.0,124.8 582.6,125.5 581.3,126.3 580.0,127.1 578.6,127.9 577.3,128.7 576.0,129.7 574.7,130.6 573.3,131.6 572.0,132.7 570.6,133.8 569.2,134.9 567.8,136.0 566.4,137.1 565.0,138.2 563.6,139.4 562.2,140.5 560.8,141.7 559.4,142.8 558.1,144.0 556.7,145.1 555.3,146.3 553.9,147.5 552.4,148.7 551.0,149.9 549.7,151.0 548.3,152.1 547.0,153.3 545.7,154.6 544.4,155.9 543.0,157.2 541.6,158.7 540.2,160.3 538.7,162.0 537.2,163.8 535.6,165.7 534.0,167.5 532.4,169.3 530.8,170.9 529.1,172.5 527.6,173.9 526.0,175.3 524.4,176.6 522.8,177.9 521.2,179.1 519.6,180.2 518.1,181.3 516.5,182.3 515.0,183.4 513.4,184.4 511.9,185.2 510.4,186.1 508.9,186.8 507.4,187.5 506.0,188.2 504.5,188.9 503.1,189.5 501.7,190.2 500.3,190.8 498.9,191.5 497.5,192.1 496.2,192.8 494.8,193.6 493.5,194.4 492.2,195.2 490.7,196.2 488.7,197.2 485.9,197.7 483.0,196.8 481.6,195.9 481.9,195.9 481.9,196.0 480.5,196.7 479.0,197.5 477.4,198.2 475.9,198.8 474.4,199.4 472.9,199.9 471.4,200.3 469.9,200.8 468.4,201.2 466.9,201.5 465.5,201.9 464.0,202.2 462.5,202.5 461.1,202.7 459.6,203.0 458.2,203.2 456.8,203.5 455.4,203.7 453.9,203.9 452.5,204.2 451.1,204.4 449.6,204.6 448.2,204.8 446.7,205.0 445.3,205.2 443.8,205.4 442.4,205.5 441.0,205.7 439.5,205.8 438.1,206.0 436.7,206.1 435.3,206.2 433.9,206.4 432.5,206.5 431.1,206.7 429.7,206.8 428.3,207.0 426.9,207.2 425.6,207.4 424.3,207.7 423.0,208.0 421.8,208.4 420.6,208.9 419.3,209.4 418.1,210.1"/><circle cx="416.6" cy="207" r="3.4" fill="#0a0af0"/><path d="M508.9 186.8l0.6 1.2M508.5 179.2l-0.7 -1.2M513.4 184.4l0.6 0.9M511.1 177.6l-0.4 -0.6M512.4 176.7l-0.9 -1.2M516.5 182.3l0.8 1.1M519.6 180.2l0.8 1.0M516.2 173.2l-0.6 -0.7M522.8 177.9l0.5 0.6M518.7 170.6l-0.6 -0.7M521.2 167.7l-0.7 -0.7M522.5 166.2l-1.1 -1.1M529.1 172.5l0.8 0.8M532.4 169.3l0.6 0.5M534.0 167.5l1.2 1.0M537.2 163.8l0.5 0.4M538.7 162.0l0.6 0.4M531.3 153.5l-0.7 -0.5M540.2 160.3l0.7 0.6M532.7 151.5l-0.9 -0.7M541.6 158.7l0.7 0.5M537.1 146.1l-0.8 -0.8M545.7 154.6l0.6 0.6M538.7 144.6l-0.7 -0.7M547.0 153.3l1.0 1.1M540.2 143.1l-0.4 -0.5M541.7 141.8l-0.6 -0.7M549.7 151.0l0.7 0.8M552.4 148.7l0.9 1.0M547.4 136.9l-0.5 -0.7M548.9 135.7l-0.6 -0.7M550.3 134.6l-0.9 -1.1M551.8 133.4l-0.8 -0.9M559.4 142.8l0.4 0.6M553.3 132.2l-0.9 -1.1M560.8 141.7l0.5 0.6M562.2 140.5l0.4 0.5M563.6 139.4l0.7 0.9M565.0 138.2l0.8 1.0M559.0 127.8l-0.9 -1.1M560.5 126.6l-0.4 -0.5M561.9 125.5l-0.5 -0.6M569.2 134.9l0.6 0.8M563.4 124.4l-0.5 -0.7M572.0 132.7l0.4 0.5M569.3 120.1l-0.4 -0.6M576.0 129.7l0.7 0.9M570.8 119.1l-0.8 -1.2M577.3 128.7l0.6 1.0M580.0 127.1l0.4 0.6M575.4 116.2l-0.6 -1.1M581.3 126.3l0.3 0.5M582.6 125.5l0.6 1.1M584.0 124.8l0.7 1.4M585.3 124.1l0.6 1.1M586.7 123.4l0.6 1.1M588.1 122.7l0.6 1.3M589.5 122.1l0.5 1.0M585.7 110.7l-0.6 -1.3M590.9 121.4l0.3 0.7M587.1 109.9l-0.3 -0.7M592.3 120.7l0.6 1.3M588.5 109.2l-0.3 -0.6M589.9 108.5l-0.3 -0.6M595.2 119.5l0.3 0.7M592.8 107.1l-0.5 -1.1M598.0 118.2l0.4 0.9M594.2 106.4l-0.5 -1.1M599.4 117.6l0.6 1.3M595.6 105.7l-0.5 -1.0M600.8 117.0l0.7 1.4M603.6 115.8l0.4 0.8M600.0 103.6l-0.4 -1.0M606.3 114.7l0.3 0.6M602.9 102.3l-0.5 -1.2M607.7 114.2l0.6 1.5M609.1 113.7l0.5 1.2M608.6 99.9l-0.3 -0.7M613.3 112.2l0.3 0.7M610.1 99.3l-0.3 -0.8M612.9 98.1l-0.5 -1.4M615.8 97.0l-0.5 -1.5M617.2 96.5l-0.2 -0.6M621.8 109.1l0.3 0.8M618.7 96.0l-0.4 -1.1M623.2 108.7l0.3 0.7M620.1 95.4l-0.5 -1.5M624.6 108.2l0.4 1.2M621.6 94.9l-0.4 -1.1M627.3 107.3l0.4 1.2M628.6 106.9l0.4 1.3M626.1 93.5l-0.2 -0.8M631.2 106.1l0.3 1.1M629.2 92.6l-0.2 -0.7M632.5 105.8l0.2 1.0M630.7 92.3l-0.4 -1.5M633.9 105.5l0.2 0.7M632.2 91.9l-0.2 -1.0M633.7 91.6l-0.2 -0.7M636.6 104.9l0.3 1.4M636.6 90.9l-0.3 -1.4M639.3 104.3l0.3 1.5M638.0 90.6l-0.2 -1.0M639.5 90.3l-0.2 -1.1M640.9 90.0l-0.2 -1.0M642.3 89.7l-0.2 -0.9M646.3 103.0l0.3 1.4M645.2 89.1l-0.2 -1.2M647.7 102.8l0.1 0.7M653.3 101.9l0.1 0.7M654.7 101.7l0.1 0.8M656.1 101.5l0.2 1.4M655.3 87.2l-0.1 -0.8M656.8 87.0l-0.1 -0.9M658.9 101.2l0.1 0.7M658.2 86.7l-0.1 -0.7M661.7 100.8l0.2 1.4M661.1 86.3l-0.1 -0.6M662.6 86.1l-0.1 -0.7M664.4 100.5l0.2 1.4M664.0 85.9l-0.1 -1.0M665.5 85.7l-0.1 -1.0M667.2 100.2l0.1 0.8M667.0 85.5l-0.1 -1.3M668.6 100.1l0.1 1.2M668.4 85.3l-0.1 -0.8M670.0 100.0l0.1 1.3M671.4 99.8l0.1 0.6M671.3 85.0l-0.1 -0.8M672.8 99.7l0.1 1.1M672.7 84.8l-0.1 -0.9M674.2 99.6l0.1 0.9M674.2 84.7l-0.1 -0.8M675.6 84.5l-0.1 -0.7M677.0 84.4l-0.1 -1.3M679.8 99.1l0.1 1.1M681.2 99.0l0.1 1.4M682.6 98.9l0.1 0.7M682.8 83.8l-0.1 -0.9M684.2 83.7l-0.1 -1.0M685.4 98.7l0.1 1.1M685.6 83.6l-0.1 -0.8M687.1 83.5l-0.1 -0.8M688.2 98.5l0.1 1.2M689.6 98.4l0.1 1.4" stroke="#0a0af0" stroke-width="0.9" fill="none"/><circle cx="697.5" cy="90.4" r="4.6" fill="#0a0af0"/><polyline points="602.4,105.3 603.9,104.7 605.3,104.1 606.7,103.5 608.1,102.9 609.6,102.3 611.0,101.7 612.4,101.1 613.8,100.6 615.2,100.0 616.7,99.5 618.1,99.0 619.5,98.4 621.0,97.9 622.4,97.4 623.9,96.9 625.4,96.4 626.9,96.0 628.3,95.6 629.8,95.2 631.3,94.8 632.8,94.4 634.2,94.1 635.7,93.8 637.1,93.5 638.5,93.2 640.0,92.9 641.4,92.6 642.8,92.3 644.3,92.0 645.7,91.7 647.1,91.4 648.5,91.1 650.0,90.8 651.4,90.6 652.9,90.3 654.3,90.0 655.7,89.8 657.2,89.5 658.6,89.3 660.0,89.1 661.5,88.9 662.9,88.6 664.4,88.4 665.8,88.2 667.2,88.0 668.7,87.9 670.1,87.7 671.6,87.5 673.0,87.4 674.4,87.3 675.8,87.1 677.3,87.0 678.7,86.8 680.1,86.7 681.5,86.6 683.0,86.4 684.4,86.3 685.8,86.2 687.3,86.1 688.7,85.9 690.2,85.8 691.6,85.7 693.1,85.7 694.5,85.6 696.0,85.5 697.4,85.5" fill="none" stroke="#8084f6" stroke-width="1.3" stroke-dasharray="1.9 1.2"/><polyline points="605.3,112.3 606.8,111.8 608.2,111.3 609.6,110.7 611.0,110.2 612.4,109.7 613.8,109.2 615.3,108.7 616.7,108.2 618.1,107.7 619.5,107.2 620.9,106.7 622.3,106.2 623.7,105.7 625.1,105.3 626.5,104.8 627.8,104.4 629.2,104.0 630.5,103.6 631.9,103.3 633.3,103.0 634.6,102.6 636.0,102.3 637.4,102.0 638.8,101.8 640.2,101.5 641.6,101.2 643.0,101.0 644.4,100.7 645.9,100.5 647.3,100.3 648.7,100.0 650.1,99.8 651.5,99.6 652.9,99.4 654.3,99.2 655.7,99.0 657.1,98.8 658.5,98.6 659.9,98.4 661.3,98.2 662.7,98.1 664.1,97.9 665.5,97.8 666.9,97.6 668.3,97.5 669.7,97.4 671.1,97.3 672.5,97.1 673.9,97.0 675.3,96.9 676.7,96.8 678.1,96.6 679.6,96.5 681.0,96.4 682.4,96.3 683.8,96.2 685.2,96.1 686.6,96.0 688.0,95.9 689.4,95.8 690.8,95.7 692.2,95.6 693.6,95.6 695.0,95.5 696.3,95.4 697.7,95.4" fill="none" stroke="#8084f6" stroke-width="1.3" stroke-dasharray="1.9 1.2"/><text x="470" y="158.7" font-size="11.3" font-weight="bold" text-anchor="start" fill="#111" textLength="25.6" lengthAdjust="spacingAndGlyphs" >MNC</text><path d="M480.7 162V171" stroke="#d42020" stroke-width="1.4"/><path d="M477.6 170.2L483.8 170.2L480.7 177Z" fill="#d42020"/><path d="M703.5 94H715.5" stroke="#0a0af0" stroke-width="1.1"/><path d="M703.5 105.5H715.5" stroke="#10ee10" stroke-width="1.1"/><path d="M703.5 117H715.5" stroke="#46e6bc" stroke-width="1.1"/><path d="M703.5 128.4H715.5" stroke="#f050c8" stroke-width="1.1"/><path d="M703.5 140H715.5" stroke="#e01020" stroke-width="1.1"/><circle cx="709.5" cy="94" r="3.3" fill="#0a0af0"/><rect x="706.2" y="102.2" width="6.6" height="6.6" fill="#10ee10"/><path d="M709.5 113.4L713.3 119.6H705.7Z" fill="#46e6bc"/><path d="M709.5 132.0L713.3 125.80000000000001H705.7Z" fill="#f050c8"/><path d="M709.5 136.2L713.3 140L709.5 143.8L705.7 140Z" fill="#e01020"/><text x="719.7" y="98.3" font-size="12.4" font-weight="normal" text-anchor="start" fill="#1a1a1a" textLength="28.2" lengthAdjust="spacingAndGlyphs" >A549</text><text x="719.7" y="109.8" font-size="12.4" font-weight="normal" text-anchor="start" fill="#1a1a1a" textLength="60.6" lengthAdjust="spacingAndGlyphs" >E:T 0.625:1</text><text x="719.7" y="121.3" font-size="12.4" font-weight="normal" text-anchor="start" fill="#1a1a1a" textLength="54.1" lengthAdjust="spacingAndGlyphs" >E:T 1.25:1</text><text x="719.7" y="132.70000000000002" font-size="12.4" font-weight="normal" text-anchor="start" fill="#1a1a1a" textLength="47.6" lengthAdjust="spacingAndGlyphs" >E:T 2.5:1</text><text x="719.7" y="144.3" font-size="12.4" font-weight="normal" text-anchor="start" fill="#1a1a1a" textLength="37.8" lengthAdjust="spacingAndGlyphs" >E:T 5:1</text></svg></body></html>
